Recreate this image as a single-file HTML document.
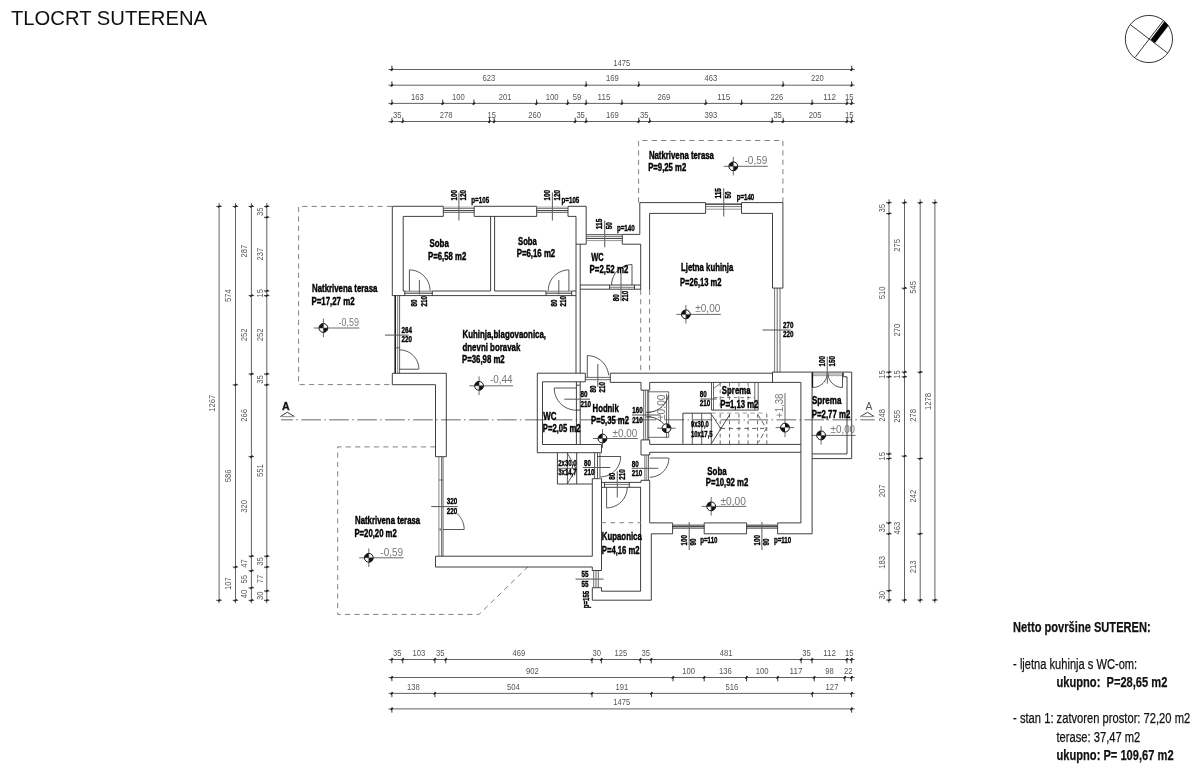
<!DOCTYPE html>
<html lang="hr"><head><meta charset="utf-8"><title>TLOCRT SUTERENA</title>
<style>
html,body{margin:0;padding:0;background:#fff;}
body{width:1200px;height:770px;overflow:hidden;}
svg{display:block;font-family:"Liberation Sans",Arial,sans-serif;filter:grayscale(100%);}
</style></head><body>
<svg width="1200" height="770" viewBox="0 0 1200 770">
<rect width="1200" height="770" fill="#ffffff"/>
<text x="11.00" y="25.00" font-size="20" fill="#111" font-weight="normal" text-anchor="start" textLength="196.0" lengthAdjust="spacingAndGlyphs">TLOCRT SUTERENA</text>
<circle cx="1148.9" cy="39.0" r="23.6" fill="none" stroke="#333" stroke-width="1"/>
<line x1="1130.30" y1="24.60" x2="1167.80" y2="53.20" stroke="#222" stroke-width="0.9"/>
<line x1="1135.20" y1="57.30" x2="1163.30" y2="20.60" stroke="#222" stroke-width="0.9"/>
<polygon points="1150.90,39.60 1154.90,42.90 1168.30,25.80 1164.50,21.60" fill="#000" stroke="#000" stroke-width="0.3"/>
<line x1="388.50" y1="69.50" x2="854.72" y2="69.50" stroke="#505050" stroke-width="0.9"/>
<line x1="391.90" y1="65.70" x2="391.90" y2="71.20" stroke="#222" stroke-width="0.9"/>
<line x1="390.60" y1="70.60" x2="393.00" y2="68.50" stroke="#111" stroke-width="1.05"/>
<line x1="851.66" y1="65.70" x2="851.66" y2="71.20" stroke="#222" stroke-width="0.9"/>
<line x1="850.36" y1="70.60" x2="852.76" y2="68.50" stroke="#111" stroke-width="1.05"/>
<text x="621.78" y="65.60" font-size="9.0" fill="#555" font-weight="normal" text-anchor="middle" textLength="17.0" lengthAdjust="spacingAndGlyphs">1475</text>
<line x1="388.50" y1="85.20" x2="854.72" y2="85.20" stroke="#505050" stroke-width="0.9"/>
<line x1="391.90" y1="81.40" x2="391.90" y2="86.90" stroke="#222" stroke-width="0.9"/>
<line x1="390.60" y1="86.30" x2="393.00" y2="84.20" stroke="#111" stroke-width="1.05"/>
<line x1="586.09" y1="81.40" x2="586.09" y2="86.90" stroke="#222" stroke-width="0.9"/>
<line x1="584.79" y1="86.30" x2="587.19" y2="84.20" stroke="#111" stroke-width="1.05"/>
<line x1="638.77" y1="81.40" x2="638.77" y2="86.90" stroke="#222" stroke-width="0.9"/>
<line x1="637.47" y1="86.30" x2="639.87" y2="84.20" stroke="#111" stroke-width="1.05"/>
<line x1="783.08" y1="81.40" x2="783.08" y2="86.90" stroke="#222" stroke-width="0.9"/>
<line x1="781.78" y1="86.30" x2="784.18" y2="84.20" stroke="#111" stroke-width="1.05"/>
<line x1="851.66" y1="81.40" x2="851.66" y2="86.90" stroke="#222" stroke-width="0.9"/>
<line x1="850.36" y1="86.30" x2="852.76" y2="84.20" stroke="#111" stroke-width="1.05"/>
<text x="488.99" y="81.30" font-size="9.0" fill="#555" font-weight="normal" text-anchor="middle" textLength="12.8" lengthAdjust="spacingAndGlyphs">623</text>
<text x="612.43" y="81.30" font-size="9.0" fill="#555" font-weight="normal" text-anchor="middle" textLength="12.8" lengthAdjust="spacingAndGlyphs">169</text>
<text x="710.92" y="81.30" font-size="9.0" fill="#555" font-weight="normal" text-anchor="middle" textLength="12.8" lengthAdjust="spacingAndGlyphs">463</text>
<text x="817.37" y="81.30" font-size="9.0" fill="#555" font-weight="normal" text-anchor="middle" textLength="12.8" lengthAdjust="spacingAndGlyphs">220</text>
<line x1="388.50" y1="103.40" x2="854.72" y2="103.40" stroke="#505050" stroke-width="0.9"/>
<line x1="391.90" y1="99.60" x2="391.90" y2="105.10" stroke="#222" stroke-width="0.9"/>
<line x1="390.60" y1="104.50" x2="393.00" y2="102.40" stroke="#111" stroke-width="1.05"/>
<line x1="442.71" y1="99.60" x2="442.71" y2="105.10" stroke="#222" stroke-width="0.9"/>
<line x1="441.41" y1="104.50" x2="443.81" y2="102.40" stroke="#111" stroke-width="1.05"/>
<line x1="473.88" y1="99.60" x2="473.88" y2="105.10" stroke="#222" stroke-width="0.9"/>
<line x1="472.58" y1="104.50" x2="474.98" y2="102.40" stroke="#111" stroke-width="1.05"/>
<line x1="536.53" y1="99.60" x2="536.53" y2="105.10" stroke="#222" stroke-width="0.9"/>
<line x1="535.23" y1="104.50" x2="537.63" y2="102.40" stroke="#111" stroke-width="1.05"/>
<line x1="567.70" y1="99.60" x2="567.70" y2="105.10" stroke="#222" stroke-width="0.9"/>
<line x1="566.40" y1="104.50" x2="568.80" y2="102.40" stroke="#111" stroke-width="1.05"/>
<line x1="586.09" y1="99.60" x2="586.09" y2="105.10" stroke="#222" stroke-width="0.9"/>
<line x1="584.79" y1="104.50" x2="587.19" y2="102.40" stroke="#111" stroke-width="1.05"/>
<line x1="621.93" y1="99.60" x2="621.93" y2="105.10" stroke="#222" stroke-width="0.9"/>
<line x1="620.63" y1="104.50" x2="623.03" y2="102.40" stroke="#111" stroke-width="1.05"/>
<line x1="705.78" y1="99.60" x2="705.78" y2="105.10" stroke="#222" stroke-width="0.9"/>
<line x1="704.48" y1="104.50" x2="706.88" y2="102.40" stroke="#111" stroke-width="1.05"/>
<line x1="741.63" y1="99.60" x2="741.63" y2="105.10" stroke="#222" stroke-width="0.9"/>
<line x1="740.33" y1="104.50" x2="742.73" y2="102.40" stroke="#111" stroke-width="1.05"/>
<line x1="812.07" y1="99.60" x2="812.07" y2="105.10" stroke="#222" stroke-width="0.9"/>
<line x1="810.77" y1="104.50" x2="813.17" y2="102.40" stroke="#111" stroke-width="1.05"/>
<line x1="846.98" y1="99.60" x2="846.98" y2="105.10" stroke="#222" stroke-width="0.9"/>
<line x1="845.68" y1="104.50" x2="848.08" y2="102.40" stroke="#111" stroke-width="1.05"/>
<line x1="851.66" y1="99.60" x2="851.66" y2="105.10" stroke="#222" stroke-width="0.9"/>
<line x1="850.36" y1="104.50" x2="852.76" y2="102.40" stroke="#111" stroke-width="1.05"/>
<text x="417.30" y="99.50" font-size="9.0" fill="#555" font-weight="normal" text-anchor="middle" textLength="12.8" lengthAdjust="spacingAndGlyphs">163</text>
<text x="458.29" y="99.50" font-size="9.0" fill="#555" font-weight="normal" text-anchor="middle" textLength="12.8" lengthAdjust="spacingAndGlyphs">100</text>
<text x="505.20" y="99.50" font-size="9.0" fill="#555" font-weight="normal" text-anchor="middle" textLength="12.8" lengthAdjust="spacingAndGlyphs">201</text>
<text x="552.11" y="99.50" font-size="9.0" fill="#555" font-weight="normal" text-anchor="middle" textLength="12.8" lengthAdjust="spacingAndGlyphs">100</text>
<text x="576.89" y="99.50" font-size="9.0" fill="#555" font-weight="normal" text-anchor="middle" textLength="8.5" lengthAdjust="spacingAndGlyphs">59</text>
<text x="604.01" y="99.50" font-size="9.0" fill="#555" font-weight="normal" text-anchor="middle" textLength="12.8" lengthAdjust="spacingAndGlyphs">115</text>
<text x="663.86" y="99.50" font-size="9.0" fill="#555" font-weight="normal" text-anchor="middle" textLength="12.8" lengthAdjust="spacingAndGlyphs">269</text>
<text x="723.70" y="99.50" font-size="9.0" fill="#555" font-weight="normal" text-anchor="middle" textLength="12.8" lengthAdjust="spacingAndGlyphs">115</text>
<text x="776.85" y="99.50" font-size="9.0" fill="#555" font-weight="normal" text-anchor="middle" textLength="12.8" lengthAdjust="spacingAndGlyphs">226</text>
<text x="829.53" y="99.50" font-size="9.0" fill="#555" font-weight="normal" text-anchor="middle" textLength="12.8" lengthAdjust="spacingAndGlyphs">112</text>
<text x="849.32" y="99.50" font-size="9.0" fill="#555" font-weight="normal" text-anchor="middle" textLength="8.5" lengthAdjust="spacingAndGlyphs">15</text>
<line x1="388.50" y1="121.50" x2="854.72" y2="121.50" stroke="#505050" stroke-width="0.9"/>
<line x1="391.90" y1="117.70" x2="391.90" y2="123.20" stroke="#222" stroke-width="0.9"/>
<line x1="390.60" y1="122.60" x2="393.00" y2="120.50" stroke="#111" stroke-width="1.05"/>
<line x1="402.81" y1="117.70" x2="402.81" y2="123.20" stroke="#222" stroke-width="0.9"/>
<line x1="401.51" y1="122.60" x2="403.91" y2="120.50" stroke="#111" stroke-width="1.05"/>
<line x1="489.46" y1="117.70" x2="489.46" y2="123.20" stroke="#222" stroke-width="0.9"/>
<line x1="488.16" y1="122.60" x2="490.56" y2="120.50" stroke="#111" stroke-width="1.05"/>
<line x1="494.14" y1="117.70" x2="494.14" y2="123.20" stroke="#222" stroke-width="0.9"/>
<line x1="492.84" y1="122.60" x2="495.24" y2="120.50" stroke="#111" stroke-width="1.05"/>
<line x1="575.18" y1="117.70" x2="575.18" y2="123.20" stroke="#222" stroke-width="0.9"/>
<line x1="573.88" y1="122.60" x2="576.28" y2="120.50" stroke="#111" stroke-width="1.05"/>
<line x1="586.09" y1="117.70" x2="586.09" y2="123.20" stroke="#222" stroke-width="0.9"/>
<line x1="584.79" y1="122.60" x2="587.19" y2="120.50" stroke="#111" stroke-width="1.05"/>
<line x1="638.77" y1="117.70" x2="638.77" y2="123.20" stroke="#222" stroke-width="0.9"/>
<line x1="637.47" y1="122.60" x2="639.87" y2="120.50" stroke="#111" stroke-width="1.05"/>
<line x1="649.68" y1="117.70" x2="649.68" y2="123.20" stroke="#222" stroke-width="0.9"/>
<line x1="648.38" y1="122.60" x2="650.78" y2="120.50" stroke="#111" stroke-width="1.05"/>
<line x1="772.17" y1="117.70" x2="772.17" y2="123.20" stroke="#222" stroke-width="0.9"/>
<line x1="770.87" y1="122.60" x2="773.27" y2="120.50" stroke="#111" stroke-width="1.05"/>
<line x1="783.08" y1="117.70" x2="783.08" y2="123.20" stroke="#222" stroke-width="0.9"/>
<line x1="781.78" y1="122.60" x2="784.18" y2="120.50" stroke="#111" stroke-width="1.05"/>
<line x1="846.98" y1="117.70" x2="846.98" y2="123.20" stroke="#222" stroke-width="0.9"/>
<line x1="845.68" y1="122.60" x2="848.08" y2="120.50" stroke="#111" stroke-width="1.05"/>
<line x1="851.66" y1="117.70" x2="851.66" y2="123.20" stroke="#222" stroke-width="0.9"/>
<line x1="850.36" y1="122.60" x2="852.76" y2="120.50" stroke="#111" stroke-width="1.05"/>
<text x="397.35" y="117.60" font-size="9.0" fill="#555" font-weight="normal" text-anchor="middle" textLength="8.5" lengthAdjust="spacingAndGlyphs">35</text>
<text x="446.14" y="117.60" font-size="9.0" fill="#555" font-weight="normal" text-anchor="middle" textLength="12.8" lengthAdjust="spacingAndGlyphs">278</text>
<text x="491.80" y="117.60" font-size="9.0" fill="#555" font-weight="normal" text-anchor="middle" textLength="8.5" lengthAdjust="spacingAndGlyphs">15</text>
<text x="534.66" y="117.60" font-size="9.0" fill="#555" font-weight="normal" text-anchor="middle" textLength="12.8" lengthAdjust="spacingAndGlyphs">260</text>
<text x="580.63" y="117.60" font-size="9.0" fill="#555" font-weight="normal" text-anchor="middle" textLength="8.5" lengthAdjust="spacingAndGlyphs">35</text>
<text x="612.43" y="117.60" font-size="9.0" fill="#555" font-weight="normal" text-anchor="middle" textLength="12.8" lengthAdjust="spacingAndGlyphs">169</text>
<text x="644.22" y="117.60" font-size="9.0" fill="#555" font-weight="normal" text-anchor="middle" textLength="8.5" lengthAdjust="spacingAndGlyphs">35</text>
<text x="710.92" y="117.60" font-size="9.0" fill="#555" font-weight="normal" text-anchor="middle" textLength="12.8" lengthAdjust="spacingAndGlyphs">393</text>
<text x="777.63" y="117.60" font-size="9.0" fill="#555" font-weight="normal" text-anchor="middle" textLength="8.5" lengthAdjust="spacingAndGlyphs">35</text>
<text x="815.03" y="117.60" font-size="9.0" fill="#555" font-weight="normal" text-anchor="middle" textLength="12.8" lengthAdjust="spacingAndGlyphs">205</text>
<text x="849.32" y="117.60" font-size="9.0" fill="#555" font-weight="normal" text-anchor="middle" textLength="8.5" lengthAdjust="spacingAndGlyphs">15</text>
<line x1="388.50" y1="659.50" x2="854.72" y2="659.50" stroke="#505050" stroke-width="0.9"/>
<line x1="391.90" y1="657.90" x2="391.90" y2="663.30" stroke="#222" stroke-width="0.9"/>
<line x1="390.60" y1="660.60" x2="393.00" y2="658.50" stroke="#111" stroke-width="1.05"/>
<line x1="402.81" y1="657.90" x2="402.81" y2="663.30" stroke="#222" stroke-width="0.9"/>
<line x1="401.51" y1="660.60" x2="403.91" y2="658.50" stroke="#111" stroke-width="1.05"/>
<line x1="434.91" y1="657.90" x2="434.91" y2="663.30" stroke="#222" stroke-width="0.9"/>
<line x1="433.61" y1="660.60" x2="436.01" y2="658.50" stroke="#111" stroke-width="1.05"/>
<line x1="445.82" y1="657.90" x2="445.82" y2="663.30" stroke="#222" stroke-width="0.9"/>
<line x1="444.52" y1="660.60" x2="446.92" y2="658.50" stroke="#111" stroke-width="1.05"/>
<line x1="592.01" y1="657.90" x2="592.01" y2="663.30" stroke="#222" stroke-width="0.9"/>
<line x1="590.71" y1="660.60" x2="593.11" y2="658.50" stroke="#111" stroke-width="1.05"/>
<line x1="601.36" y1="657.90" x2="601.36" y2="663.30" stroke="#222" stroke-width="0.9"/>
<line x1="600.06" y1="660.60" x2="602.46" y2="658.50" stroke="#111" stroke-width="1.05"/>
<line x1="640.32" y1="657.90" x2="640.32" y2="663.30" stroke="#222" stroke-width="0.9"/>
<line x1="639.02" y1="660.60" x2="641.42" y2="658.50" stroke="#111" stroke-width="1.05"/>
<line x1="651.23" y1="657.90" x2="651.23" y2="663.30" stroke="#222" stroke-width="0.9"/>
<line x1="649.93" y1="660.60" x2="652.33" y2="658.50" stroke="#111" stroke-width="1.05"/>
<line x1="801.16" y1="657.90" x2="801.16" y2="663.30" stroke="#222" stroke-width="0.9"/>
<line x1="799.86" y1="660.60" x2="802.26" y2="658.50" stroke="#111" stroke-width="1.05"/>
<line x1="812.07" y1="657.90" x2="812.07" y2="663.30" stroke="#222" stroke-width="0.9"/>
<line x1="810.77" y1="660.60" x2="813.17" y2="658.50" stroke="#111" stroke-width="1.05"/>
<line x1="846.98" y1="657.90" x2="846.98" y2="663.30" stroke="#222" stroke-width="0.9"/>
<line x1="845.68" y1="660.60" x2="848.08" y2="658.50" stroke="#111" stroke-width="1.05"/>
<line x1="851.66" y1="657.90" x2="851.66" y2="663.30" stroke="#222" stroke-width="0.9"/>
<line x1="850.36" y1="660.60" x2="852.76" y2="658.50" stroke="#111" stroke-width="1.05"/>
<text x="397.35" y="655.60" font-size="9.0" fill="#555" font-weight="normal" text-anchor="middle" textLength="8.5" lengthAdjust="spacingAndGlyphs">35</text>
<text x="418.86" y="655.60" font-size="9.0" fill="#555" font-weight="normal" text-anchor="middle" textLength="12.8" lengthAdjust="spacingAndGlyphs">103</text>
<text x="440.37" y="655.60" font-size="9.0" fill="#555" font-weight="normal" text-anchor="middle" textLength="8.5" lengthAdjust="spacingAndGlyphs">35</text>
<text x="518.92" y="655.60" font-size="9.0" fill="#555" font-weight="normal" text-anchor="middle" textLength="12.8" lengthAdjust="spacingAndGlyphs">469</text>
<text x="596.69" y="655.60" font-size="9.0" fill="#555" font-weight="normal" text-anchor="middle" textLength="8.5" lengthAdjust="spacingAndGlyphs">30</text>
<text x="620.84" y="655.60" font-size="9.0" fill="#555" font-weight="normal" text-anchor="middle" textLength="12.8" lengthAdjust="spacingAndGlyphs">125</text>
<text x="645.78" y="655.60" font-size="9.0" fill="#555" font-weight="normal" text-anchor="middle" textLength="8.5" lengthAdjust="spacingAndGlyphs">35</text>
<text x="726.20" y="655.60" font-size="9.0" fill="#555" font-weight="normal" text-anchor="middle" textLength="12.8" lengthAdjust="spacingAndGlyphs">481</text>
<text x="806.62" y="655.60" font-size="9.0" fill="#555" font-weight="normal" text-anchor="middle" textLength="8.5" lengthAdjust="spacingAndGlyphs">35</text>
<text x="829.53" y="655.60" font-size="9.0" fill="#555" font-weight="normal" text-anchor="middle" textLength="12.8" lengthAdjust="spacingAndGlyphs">112</text>
<text x="849.32" y="655.60" font-size="9.0" fill="#555" font-weight="normal" text-anchor="middle" textLength="8.5" lengthAdjust="spacingAndGlyphs">15</text>
<line x1="388.50" y1="677.50" x2="854.72" y2="677.50" stroke="#505050" stroke-width="0.9"/>
<line x1="391.90" y1="675.90" x2="391.90" y2="681.30" stroke="#222" stroke-width="0.9"/>
<line x1="390.60" y1="678.60" x2="393.00" y2="676.50" stroke="#111" stroke-width="1.05"/>
<line x1="673.05" y1="675.90" x2="673.05" y2="681.30" stroke="#222" stroke-width="0.9"/>
<line x1="671.75" y1="678.60" x2="674.15" y2="676.50" stroke="#111" stroke-width="1.05"/>
<line x1="704.22" y1="675.90" x2="704.22" y2="681.30" stroke="#222" stroke-width="0.9"/>
<line x1="702.92" y1="678.60" x2="705.32" y2="676.50" stroke="#111" stroke-width="1.05"/>
<line x1="746.61" y1="675.90" x2="746.61" y2="681.30" stroke="#222" stroke-width="0.9"/>
<line x1="745.31" y1="678.60" x2="747.71" y2="676.50" stroke="#111" stroke-width="1.05"/>
<line x1="777.78" y1="675.90" x2="777.78" y2="681.30" stroke="#222" stroke-width="0.9"/>
<line x1="776.48" y1="678.60" x2="778.88" y2="676.50" stroke="#111" stroke-width="1.05"/>
<line x1="814.25" y1="675.90" x2="814.25" y2="681.30" stroke="#222" stroke-width="0.9"/>
<line x1="812.95" y1="678.60" x2="815.35" y2="676.50" stroke="#111" stroke-width="1.05"/>
<line x1="844.80" y1="675.90" x2="844.80" y2="681.30" stroke="#222" stroke-width="0.9"/>
<line x1="843.50" y1="678.60" x2="845.90" y2="676.50" stroke="#111" stroke-width="1.05"/>
<line x1="851.66" y1="675.90" x2="851.66" y2="681.30" stroke="#222" stroke-width="0.9"/>
<line x1="850.36" y1="678.60" x2="852.76" y2="676.50" stroke="#111" stroke-width="1.05"/>
<text x="532.48" y="673.60" font-size="9.0" fill="#555" font-weight="normal" text-anchor="middle" textLength="12.8" lengthAdjust="spacingAndGlyphs">902</text>
<text x="688.64" y="673.60" font-size="9.0" fill="#555" font-weight="normal" text-anchor="middle" textLength="12.8" lengthAdjust="spacingAndGlyphs">100</text>
<text x="725.42" y="673.60" font-size="9.0" fill="#555" font-weight="normal" text-anchor="middle" textLength="12.8" lengthAdjust="spacingAndGlyphs">136</text>
<text x="762.20" y="673.60" font-size="9.0" fill="#555" font-weight="normal" text-anchor="middle" textLength="12.8" lengthAdjust="spacingAndGlyphs">100</text>
<text x="796.02" y="673.60" font-size="9.0" fill="#555" font-weight="normal" text-anchor="middle" textLength="12.8" lengthAdjust="spacingAndGlyphs">117</text>
<text x="829.53" y="673.60" font-size="9.0" fill="#555" font-weight="normal" text-anchor="middle" textLength="8.5" lengthAdjust="spacingAndGlyphs">98</text>
<text x="848.23" y="673.60" font-size="9.0" fill="#555" font-weight="normal" text-anchor="middle" textLength="8.5" lengthAdjust="spacingAndGlyphs">22</text>
<line x1="388.50" y1="693.40" x2="854.72" y2="693.40" stroke="#505050" stroke-width="0.9"/>
<line x1="391.90" y1="691.80" x2="391.90" y2="697.20" stroke="#222" stroke-width="0.9"/>
<line x1="390.60" y1="694.50" x2="393.00" y2="692.40" stroke="#111" stroke-width="1.05"/>
<line x1="434.91" y1="691.80" x2="434.91" y2="697.20" stroke="#222" stroke-width="0.9"/>
<line x1="433.61" y1="694.50" x2="436.01" y2="692.40" stroke="#111" stroke-width="1.05"/>
<line x1="592.01" y1="691.80" x2="592.01" y2="697.20" stroke="#222" stroke-width="0.9"/>
<line x1="590.71" y1="694.50" x2="593.11" y2="692.40" stroke="#111" stroke-width="1.05"/>
<line x1="651.55" y1="691.80" x2="651.55" y2="697.20" stroke="#222" stroke-width="0.9"/>
<line x1="650.25" y1="694.50" x2="652.65" y2="692.40" stroke="#111" stroke-width="1.05"/>
<line x1="812.38" y1="691.80" x2="812.38" y2="697.20" stroke="#222" stroke-width="0.9"/>
<line x1="811.08" y1="694.50" x2="813.48" y2="692.40" stroke="#111" stroke-width="1.05"/>
<line x1="851.66" y1="691.80" x2="851.66" y2="697.20" stroke="#222" stroke-width="0.9"/>
<line x1="850.36" y1="694.50" x2="852.76" y2="692.40" stroke="#111" stroke-width="1.05"/>
<text x="413.41" y="689.50" font-size="9.0" fill="#555" font-weight="normal" text-anchor="middle" textLength="12.8" lengthAdjust="spacingAndGlyphs">138</text>
<text x="513.46" y="689.50" font-size="9.0" fill="#555" font-weight="normal" text-anchor="middle" textLength="12.8" lengthAdjust="spacingAndGlyphs">504</text>
<text x="621.78" y="689.50" font-size="9.0" fill="#555" font-weight="normal" text-anchor="middle" textLength="12.8" lengthAdjust="spacingAndGlyphs">191</text>
<text x="731.96" y="689.50" font-size="9.0" fill="#555" font-weight="normal" text-anchor="middle" textLength="12.8" lengthAdjust="spacingAndGlyphs">516</text>
<text x="832.02" y="689.50" font-size="9.0" fill="#555" font-weight="normal" text-anchor="middle" textLength="12.8" lengthAdjust="spacingAndGlyphs">127</text>
<line x1="388.50" y1="708.90" x2="854.72" y2="708.90" stroke="#505050" stroke-width="0.9"/>
<line x1="391.90" y1="707.30" x2="391.90" y2="712.70" stroke="#222" stroke-width="0.9"/>
<line x1="390.60" y1="710.00" x2="393.00" y2="707.90" stroke="#111" stroke-width="1.05"/>
<line x1="851.66" y1="707.30" x2="851.66" y2="712.70" stroke="#222" stroke-width="0.9"/>
<line x1="850.36" y1="710.00" x2="852.76" y2="707.90" stroke="#111" stroke-width="1.05"/>
<text x="621.78" y="705.00" font-size="9.0" fill="#555" font-weight="normal" text-anchor="middle" textLength="17.0" lengthAdjust="spacingAndGlyphs">1475</text>
<line x1="219.10" y1="203.00" x2="219.10" y2="603.20" stroke="#505050" stroke-width="0.9"/>
<line x1="216.30" y1="206.40" x2="221.70" y2="206.40" stroke="#222" stroke-width="0.9"/>
<line x1="218.00" y1="207.50" x2="220.40" y2="205.40" stroke="#111" stroke-width="1.05"/>
<line x1="216.30" y1="600.31" x2="221.70" y2="600.31" stroke="#222" stroke-width="0.9"/>
<line x1="218.00" y1="601.41" x2="220.40" y2="599.31" stroke="#111" stroke-width="1.05"/>
<text x="215.10" y="403.36" font-size="9.0" fill="#555" font-weight="normal" text-anchor="middle" textLength="17.0" lengthAdjust="spacingAndGlyphs" transform="rotate(-90 215.10 403.36)">1267</text>
<line x1="235.50" y1="203.00" x2="235.50" y2="603.20" stroke="#505050" stroke-width="0.9"/>
<line x1="232.70" y1="206.40" x2="238.10" y2="206.40" stroke="#222" stroke-width="0.9"/>
<line x1="234.40" y1="207.50" x2="236.80" y2="205.40" stroke="#111" stroke-width="1.05"/>
<line x1="232.70" y1="384.86" x2="238.10" y2="384.86" stroke="#222" stroke-width="0.9"/>
<line x1="234.40" y1="385.96" x2="236.80" y2="383.86" stroke="#111" stroke-width="1.05"/>
<line x1="232.70" y1="567.04" x2="238.10" y2="567.04" stroke="#222" stroke-width="0.9"/>
<line x1="234.40" y1="568.14" x2="236.80" y2="566.04" stroke="#111" stroke-width="1.05"/>
<line x1="232.70" y1="600.31" x2="238.10" y2="600.31" stroke="#222" stroke-width="0.9"/>
<line x1="234.40" y1="601.41" x2="236.80" y2="599.31" stroke="#111" stroke-width="1.05"/>
<text x="231.50" y="295.63" font-size="9.0" fill="#555" font-weight="normal" text-anchor="middle" textLength="12.8" lengthAdjust="spacingAndGlyphs" transform="rotate(-90 231.50 295.63)">574</text>
<text x="231.50" y="475.95" font-size="9.0" fill="#555" font-weight="normal" text-anchor="middle" textLength="12.8" lengthAdjust="spacingAndGlyphs" transform="rotate(-90 231.50 475.95)">586</text>
<text x="231.50" y="583.68" font-size="9.0" fill="#555" font-weight="normal" text-anchor="middle" textLength="12.8" lengthAdjust="spacingAndGlyphs" transform="rotate(-90 231.50 583.68)">107</text>
<line x1="251.40" y1="203.00" x2="251.40" y2="603.20" stroke="#505050" stroke-width="0.9"/>
<line x1="248.60" y1="206.40" x2="254.00" y2="206.40" stroke="#222" stroke-width="0.9"/>
<line x1="250.30" y1="207.50" x2="252.70" y2="205.40" stroke="#111" stroke-width="1.05"/>
<line x1="248.60" y1="295.63" x2="254.00" y2="295.63" stroke="#222" stroke-width="0.9"/>
<line x1="250.30" y1="296.73" x2="252.70" y2="294.63" stroke="#111" stroke-width="1.05"/>
<line x1="248.60" y1="373.98" x2="254.00" y2="373.98" stroke="#222" stroke-width="0.9"/>
<line x1="250.30" y1="375.08" x2="252.70" y2="372.98" stroke="#111" stroke-width="1.05"/>
<line x1="248.60" y1="456.67" x2="254.00" y2="456.67" stroke="#222" stroke-width="0.9"/>
<line x1="250.30" y1="457.77" x2="252.70" y2="455.67" stroke="#111" stroke-width="1.05"/>
<line x1="248.60" y1="556.16" x2="254.00" y2="556.16" stroke="#222" stroke-width="0.9"/>
<line x1="250.30" y1="557.26" x2="252.70" y2="555.16" stroke="#111" stroke-width="1.05"/>
<line x1="248.60" y1="570.77" x2="254.00" y2="570.77" stroke="#222" stroke-width="0.9"/>
<line x1="250.30" y1="571.87" x2="252.70" y2="569.77" stroke="#111" stroke-width="1.05"/>
<line x1="248.60" y1="587.87" x2="254.00" y2="587.87" stroke="#222" stroke-width="0.9"/>
<line x1="250.30" y1="588.97" x2="252.70" y2="586.87" stroke="#111" stroke-width="1.05"/>
<line x1="248.60" y1="600.31" x2="254.00" y2="600.31" stroke="#222" stroke-width="0.9"/>
<line x1="250.30" y1="601.41" x2="252.70" y2="599.31" stroke="#111" stroke-width="1.05"/>
<text x="247.40" y="251.01" font-size="9.0" fill="#555" font-weight="normal" text-anchor="middle" textLength="12.8" lengthAdjust="spacingAndGlyphs" transform="rotate(-90 247.40 251.01)">287</text>
<text x="247.40" y="334.80" font-size="9.0" fill="#555" font-weight="normal" text-anchor="middle" textLength="12.8" lengthAdjust="spacingAndGlyphs" transform="rotate(-90 247.40 334.80)">252</text>
<text x="247.40" y="415.32" font-size="9.0" fill="#555" font-weight="normal" text-anchor="middle" textLength="12.8" lengthAdjust="spacingAndGlyphs" transform="rotate(-90 247.40 415.32)">266</text>
<text x="247.40" y="506.42" font-size="9.0" fill="#555" font-weight="normal" text-anchor="middle" textLength="12.8" lengthAdjust="spacingAndGlyphs" transform="rotate(-90 247.40 506.42)">320</text>
<text x="247.40" y="563.47" font-size="9.0" fill="#555" font-weight="normal" text-anchor="middle" textLength="8.5" lengthAdjust="spacingAndGlyphs" transform="rotate(-90 247.40 563.47)">47</text>
<text x="247.40" y="579.32" font-size="9.0" fill="#555" font-weight="normal" text-anchor="middle" textLength="8.5" lengthAdjust="spacingAndGlyphs" transform="rotate(-90 247.40 579.32)">55</text>
<text x="247.40" y="594.09" font-size="9.0" fill="#555" font-weight="normal" text-anchor="middle" textLength="8.5" lengthAdjust="spacingAndGlyphs" transform="rotate(-90 247.40 594.09)">40</text>
<line x1="266.80" y1="203.00" x2="266.80" y2="603.20" stroke="#505050" stroke-width="0.9"/>
<line x1="264.00" y1="206.40" x2="269.40" y2="206.40" stroke="#222" stroke-width="0.9"/>
<line x1="265.70" y1="207.50" x2="268.10" y2="205.40" stroke="#111" stroke-width="1.05"/>
<line x1="264.00" y1="217.28" x2="269.40" y2="217.28" stroke="#222" stroke-width="0.9"/>
<line x1="265.70" y1="218.38" x2="268.10" y2="216.28" stroke="#111" stroke-width="1.05"/>
<line x1="264.00" y1="290.96" x2="269.40" y2="290.96" stroke="#222" stroke-width="0.9"/>
<line x1="265.70" y1="292.06" x2="268.10" y2="289.96" stroke="#111" stroke-width="1.05"/>
<line x1="264.00" y1="295.63" x2="269.40" y2="295.63" stroke="#222" stroke-width="0.9"/>
<line x1="265.70" y1="296.73" x2="268.10" y2="294.63" stroke="#111" stroke-width="1.05"/>
<line x1="264.00" y1="373.98" x2="269.40" y2="373.98" stroke="#222" stroke-width="0.9"/>
<line x1="265.70" y1="375.08" x2="268.10" y2="372.98" stroke="#111" stroke-width="1.05"/>
<line x1="264.00" y1="384.86" x2="269.40" y2="384.86" stroke="#222" stroke-width="0.9"/>
<line x1="265.70" y1="385.96" x2="268.10" y2="383.86" stroke="#111" stroke-width="1.05"/>
<line x1="264.00" y1="556.16" x2="269.40" y2="556.16" stroke="#222" stroke-width="0.9"/>
<line x1="265.70" y1="557.26" x2="268.10" y2="555.16" stroke="#111" stroke-width="1.05"/>
<line x1="264.00" y1="567.04" x2="269.40" y2="567.04" stroke="#222" stroke-width="0.9"/>
<line x1="265.70" y1="568.14" x2="268.10" y2="566.04" stroke="#111" stroke-width="1.05"/>
<line x1="264.00" y1="590.98" x2="269.40" y2="590.98" stroke="#222" stroke-width="0.9"/>
<line x1="265.70" y1="592.08" x2="268.10" y2="589.98" stroke="#111" stroke-width="1.05"/>
<line x1="264.00" y1="600.31" x2="269.40" y2="600.31" stroke="#222" stroke-width="0.9"/>
<line x1="265.70" y1="601.41" x2="268.10" y2="599.31" stroke="#111" stroke-width="1.05"/>
<text x="262.80" y="211.84" font-size="9.0" fill="#555" font-weight="normal" text-anchor="middle" textLength="8.5" lengthAdjust="spacingAndGlyphs" transform="rotate(-90 262.80 211.84)">35</text>
<text x="262.80" y="254.12" font-size="9.0" fill="#555" font-weight="normal" text-anchor="middle" textLength="12.8" lengthAdjust="spacingAndGlyphs" transform="rotate(-90 262.80 254.12)">237</text>
<text x="262.80" y="293.30" font-size="9.0" fill="#555" font-weight="normal" text-anchor="middle" textLength="8.5" lengthAdjust="spacingAndGlyphs" transform="rotate(-90 262.80 293.30)">15</text>
<text x="262.80" y="334.80" font-size="9.0" fill="#555" font-weight="normal" text-anchor="middle" textLength="12.8" lengthAdjust="spacingAndGlyphs" transform="rotate(-90 262.80 334.80)">252</text>
<text x="262.80" y="379.42" font-size="9.0" fill="#555" font-weight="normal" text-anchor="middle" textLength="8.5" lengthAdjust="spacingAndGlyphs" transform="rotate(-90 262.80 379.42)">35</text>
<text x="262.80" y="470.51" font-size="9.0" fill="#555" font-weight="normal" text-anchor="middle" textLength="12.8" lengthAdjust="spacingAndGlyphs" transform="rotate(-90 262.80 470.51)">551</text>
<text x="262.80" y="561.60" font-size="9.0" fill="#555" font-weight="normal" text-anchor="middle" textLength="8.5" lengthAdjust="spacingAndGlyphs" transform="rotate(-90 262.80 561.60)">35</text>
<text x="262.80" y="579.01" font-size="9.0" fill="#555" font-weight="normal" text-anchor="middle" textLength="8.5" lengthAdjust="spacingAndGlyphs" transform="rotate(-90 262.80 579.01)">77</text>
<text x="262.80" y="595.65" font-size="9.0" fill="#555" font-weight="normal" text-anchor="middle" textLength="8.5" lengthAdjust="spacingAndGlyphs" transform="rotate(-90 262.80 595.65)">30</text>
<line x1="889.00" y1="199.30" x2="889.00" y2="602.92" stroke="#505050" stroke-width="0.9"/>
<line x1="886.20" y1="202.70" x2="891.60" y2="202.70" stroke="#222" stroke-width="0.9"/>
<line x1="887.90" y1="203.80" x2="890.30" y2="201.70" stroke="#111" stroke-width="1.05"/>
<line x1="886.20" y1="213.58" x2="891.60" y2="213.58" stroke="#222" stroke-width="0.9"/>
<line x1="887.90" y1="214.68" x2="890.30" y2="212.58" stroke="#111" stroke-width="1.05"/>
<line x1="886.20" y1="372.14" x2="891.60" y2="372.14" stroke="#222" stroke-width="0.9"/>
<line x1="887.90" y1="373.24" x2="890.30" y2="371.14" stroke="#111" stroke-width="1.05"/>
<line x1="886.20" y1="376.80" x2="891.60" y2="376.80" stroke="#222" stroke-width="0.9"/>
<line x1="887.90" y1="377.90" x2="890.30" y2="375.80" stroke="#111" stroke-width="1.05"/>
<line x1="886.20" y1="453.91" x2="891.60" y2="453.91" stroke="#222" stroke-width="0.9"/>
<line x1="887.90" y1="455.01" x2="890.30" y2="452.91" stroke="#111" stroke-width="1.05"/>
<line x1="886.20" y1="458.57" x2="891.60" y2="458.57" stroke="#222" stroke-width="0.9"/>
<line x1="887.90" y1="459.67" x2="890.30" y2="457.57" stroke="#111" stroke-width="1.05"/>
<line x1="886.20" y1="522.93" x2="891.60" y2="522.93" stroke="#222" stroke-width="0.9"/>
<line x1="887.90" y1="524.03" x2="890.30" y2="521.93" stroke="#111" stroke-width="1.05"/>
<line x1="886.20" y1="533.81" x2="891.60" y2="533.81" stroke="#222" stroke-width="0.9"/>
<line x1="887.90" y1="534.91" x2="890.30" y2="532.81" stroke="#111" stroke-width="1.05"/>
<line x1="886.20" y1="590.70" x2="891.60" y2="590.70" stroke="#222" stroke-width="0.9"/>
<line x1="887.90" y1="591.80" x2="890.30" y2="589.70" stroke="#111" stroke-width="1.05"/>
<line x1="886.20" y1="600.03" x2="891.60" y2="600.03" stroke="#222" stroke-width="0.9"/>
<line x1="887.90" y1="601.13" x2="890.30" y2="599.03" stroke="#111" stroke-width="1.05"/>
<text x="885.00" y="208.14" font-size="9.0" fill="#555" font-weight="normal" text-anchor="middle" textLength="8.5" lengthAdjust="spacingAndGlyphs" transform="rotate(-90 885.00 208.14)">35</text>
<text x="885.00" y="292.86" font-size="9.0" fill="#555" font-weight="normal" text-anchor="middle" textLength="12.8" lengthAdjust="spacingAndGlyphs" transform="rotate(-90 885.00 292.86)">510</text>
<text x="885.00" y="374.47" font-size="9.0" fill="#555" font-weight="normal" text-anchor="middle" textLength="8.5" lengthAdjust="spacingAndGlyphs" transform="rotate(-90 885.00 374.47)">15</text>
<text x="885.00" y="415.36" font-size="9.0" fill="#555" font-weight="normal" text-anchor="middle" textLength="12.8" lengthAdjust="spacingAndGlyphs" transform="rotate(-90 885.00 415.36)">248</text>
<text x="885.00" y="456.24" font-size="9.0" fill="#555" font-weight="normal" text-anchor="middle" textLength="8.5" lengthAdjust="spacingAndGlyphs" transform="rotate(-90 885.00 456.24)">15</text>
<text x="885.00" y="490.75" font-size="9.0" fill="#555" font-weight="normal" text-anchor="middle" textLength="12.8" lengthAdjust="spacingAndGlyphs" transform="rotate(-90 885.00 490.75)">207</text>
<text x="885.00" y="528.37" font-size="9.0" fill="#555" font-weight="normal" text-anchor="middle" textLength="8.5" lengthAdjust="spacingAndGlyphs" transform="rotate(-90 885.00 528.37)">35</text>
<text x="885.00" y="562.26" font-size="9.0" fill="#555" font-weight="normal" text-anchor="middle" textLength="12.8" lengthAdjust="spacingAndGlyphs" transform="rotate(-90 885.00 562.26)">183</text>
<text x="885.00" y="595.37" font-size="9.0" fill="#555" font-weight="normal" text-anchor="middle" textLength="8.5" lengthAdjust="spacingAndGlyphs" transform="rotate(-90 885.00 595.37)">30</text>
<line x1="904.50" y1="199.30" x2="904.50" y2="602.92" stroke="#505050" stroke-width="0.9"/>
<line x1="901.70" y1="202.70" x2="907.10" y2="202.70" stroke="#222" stroke-width="0.9"/>
<line x1="903.40" y1="203.80" x2="905.80" y2="201.70" stroke="#111" stroke-width="1.05"/>
<line x1="901.70" y1="288.20" x2="907.10" y2="288.20" stroke="#222" stroke-width="0.9"/>
<line x1="903.40" y1="289.30" x2="905.80" y2="287.20" stroke="#111" stroke-width="1.05"/>
<line x1="901.70" y1="372.14" x2="907.10" y2="372.14" stroke="#222" stroke-width="0.9"/>
<line x1="903.40" y1="373.24" x2="905.80" y2="371.14" stroke="#111" stroke-width="1.05"/>
<line x1="901.70" y1="376.80" x2="907.10" y2="376.80" stroke="#222" stroke-width="0.9"/>
<line x1="903.40" y1="377.90" x2="905.80" y2="375.80" stroke="#111" stroke-width="1.05"/>
<line x1="901.70" y1="456.08" x2="907.10" y2="456.08" stroke="#222" stroke-width="0.9"/>
<line x1="903.40" y1="457.18" x2="905.80" y2="455.08" stroke="#111" stroke-width="1.05"/>
<line x1="901.70" y1="600.03" x2="907.10" y2="600.03" stroke="#222" stroke-width="0.9"/>
<line x1="903.40" y1="601.13" x2="905.80" y2="599.03" stroke="#111" stroke-width="1.05"/>
<text x="900.50" y="245.45" font-size="9.0" fill="#555" font-weight="normal" text-anchor="middle" textLength="12.8" lengthAdjust="spacingAndGlyphs" transform="rotate(-90 900.50 245.45)">275</text>
<text x="900.50" y="330.17" font-size="9.0" fill="#555" font-weight="normal" text-anchor="middle" textLength="12.8" lengthAdjust="spacingAndGlyphs" transform="rotate(-90 900.50 330.17)">270</text>
<text x="900.50" y="374.47" font-size="9.0" fill="#555" font-weight="normal" text-anchor="middle" textLength="8.5" lengthAdjust="spacingAndGlyphs" transform="rotate(-90 900.50 374.47)">15</text>
<text x="900.50" y="416.44" font-size="9.0" fill="#555" font-weight="normal" text-anchor="middle" textLength="12.8" lengthAdjust="spacingAndGlyphs" transform="rotate(-90 900.50 416.44)">255</text>
<text x="900.50" y="528.06" font-size="9.0" fill="#555" font-weight="normal" text-anchor="middle" textLength="12.8" lengthAdjust="spacingAndGlyphs" transform="rotate(-90 900.50 528.06)">463</text>
<line x1="920.20" y1="199.30" x2="920.20" y2="602.92" stroke="#505050" stroke-width="0.9"/>
<line x1="917.40" y1="202.70" x2="922.80" y2="202.70" stroke="#222" stroke-width="0.9"/>
<line x1="919.10" y1="203.80" x2="921.50" y2="201.70" stroke="#111" stroke-width="1.05"/>
<line x1="917.40" y1="372.14" x2="922.80" y2="372.14" stroke="#222" stroke-width="0.9"/>
<line x1="919.10" y1="373.24" x2="921.50" y2="371.14" stroke="#111" stroke-width="1.05"/>
<line x1="917.40" y1="458.57" x2="922.80" y2="458.57" stroke="#222" stroke-width="0.9"/>
<line x1="919.10" y1="459.67" x2="921.50" y2="457.57" stroke="#111" stroke-width="1.05"/>
<line x1="917.40" y1="533.81" x2="922.80" y2="533.81" stroke="#222" stroke-width="0.9"/>
<line x1="919.10" y1="534.91" x2="921.50" y2="532.81" stroke="#111" stroke-width="1.05"/>
<line x1="917.40" y1="600.03" x2="922.80" y2="600.03" stroke="#222" stroke-width="0.9"/>
<line x1="919.10" y1="601.13" x2="921.50" y2="599.03" stroke="#111" stroke-width="1.05"/>
<text x="916.20" y="287.42" font-size="9.0" fill="#555" font-weight="normal" text-anchor="middle" textLength="12.8" lengthAdjust="spacingAndGlyphs" transform="rotate(-90 916.20 287.42)">545</text>
<text x="916.20" y="415.36" font-size="9.0" fill="#555" font-weight="normal" text-anchor="middle" textLength="12.8" lengthAdjust="spacingAndGlyphs" transform="rotate(-90 916.20 415.36)">278</text>
<text x="916.20" y="496.19" font-size="9.0" fill="#555" font-weight="normal" text-anchor="middle" textLength="12.8" lengthAdjust="spacingAndGlyphs" transform="rotate(-90 916.20 496.19)">242</text>
<text x="916.20" y="566.92" font-size="9.0" fill="#555" font-weight="normal" text-anchor="middle" textLength="12.8" lengthAdjust="spacingAndGlyphs" transform="rotate(-90 916.20 566.92)">213</text>
<line x1="934.90" y1="199.30" x2="934.90" y2="602.92" stroke="#505050" stroke-width="0.9"/>
<line x1="932.10" y1="202.70" x2="937.50" y2="202.70" stroke="#222" stroke-width="0.9"/>
<line x1="933.80" y1="203.80" x2="936.20" y2="201.70" stroke="#111" stroke-width="1.05"/>
<line x1="932.10" y1="600.03" x2="937.50" y2="600.03" stroke="#222" stroke-width="0.9"/>
<line x1="933.80" y1="601.13" x2="936.20" y2="599.03" stroke="#111" stroke-width="1.05"/>
<text x="930.90" y="401.37" font-size="9.0" fill="#555" font-weight="normal" text-anchor="middle" textLength="17.0" lengthAdjust="spacingAndGlyphs" transform="rotate(-90 930.90 401.37)">1278</text>
<line x1="281.10" y1="419.85" x2="874.70" y2="419.85" stroke="#9a9a9a" stroke-width="1.5" stroke-dasharray="19.6 3.3 1.5 3.55" stroke-dashoffset="7.7"/>
<text x="285.80" y="410.40" font-size="10.6" fill="#111" font-weight="bold" text-anchor="middle" stroke="#111" stroke-width="0.3">A</text>
<polyline points="280.30,416.60 287.30,412.30 294.50,416.60" fill="none" stroke="#222" stroke-width="0.9"/>
<line x1="281.50" y1="416.60" x2="293.30" y2="416.60" stroke="#999" stroke-width="1.2"/>
<text x="868.90" y="409.80" font-size="10.3" fill="#555" font-weight="normal" text-anchor="middle">A</text>
<polyline points="860.30,416.60 867.50,412.30 874.30,416.60" fill="none" stroke="#333" stroke-width="0.9"/>
<line x1="861.50" y1="416.60" x2="873.30" y2="416.60" stroke="#999" stroke-width="1.2"/>
<polyline points="392.00,206.40 298.60,206.40 298.60,384.60 392.00,384.60" fill="none" stroke="#606060" stroke-width="0.8" stroke-dasharray="5.2 4.2"/>
<polyline points="435.50,446.90 337.70,446.90 337.70,614.40 479.00,614.40 527.80,567.00" fill="none" stroke="#606060" stroke-width="0.8" stroke-dasharray="5.2 4.2"/>
<polyline points="638.60,202.60 638.60,140.50 782.90,140.50 782.90,202.60" fill="none" stroke="#606060" stroke-width="0.8" stroke-dasharray="5.2 4.2"/>
<line x1="640.70" y1="289.70" x2="640.70" y2="373.20" stroke="#606060" stroke-width="0.8" stroke-dasharray="5.2 4.2"/>
<line x1="649.60" y1="289.70" x2="649.60" y2="373.20" stroke="#606060" stroke-width="0.8" stroke-dasharray="5.2 4.2"/>
<polyline points="392.30,295.60 392.30,206.30 443.30,206.30 443.30,216.40 403.20,216.40 403.20,291.00" fill="none" stroke="#2a2a2a" stroke-width="0.9"/>
<polygon points="474.20,206.30 536.70,206.30 536.70,216.40 474.20,216.40" fill="none" stroke="#2a2a2a" stroke-width="0.9"/>
<polygon points="568.00,206.30 586.20,206.30 586.20,244.20 576.00,244.20 576.00,216.40 568.00,216.40" fill="none" stroke="#2a2a2a" stroke-width="0.9"/>
<line x1="443.30" y1="207.00" x2="474.20" y2="207.00" stroke="#aaa" stroke-width="0.8"/>
<line x1="443.30" y1="208.30" x2="474.20" y2="208.30" stroke="#555" stroke-width="0.9"/>
<line x1="443.30" y1="210.50" x2="474.20" y2="210.50" stroke="#444" stroke-width="1.0"/>
<line x1="443.30" y1="212.30" x2="474.20" y2="212.30" stroke="#444" stroke-width="0.9"/>
<line x1="536.70" y1="207.00" x2="568.00" y2="207.00" stroke="#aaa" stroke-width="0.8"/>
<line x1="536.70" y1="208.30" x2="568.00" y2="208.30" stroke="#555" stroke-width="0.9"/>
<line x1="536.70" y1="210.50" x2="568.00" y2="210.50" stroke="#444" stroke-width="1.0"/>
<line x1="536.70" y1="212.30" x2="568.00" y2="212.30" stroke="#444" stroke-width="0.9"/>
<line x1="490.60" y1="216.40" x2="490.60" y2="291.00" stroke="#2a2a2a" stroke-width="0.9"/>
<line x1="494.60" y1="216.40" x2="494.60" y2="291.00" stroke="#2a2a2a" stroke-width="0.9"/>
<line x1="392.30" y1="295.60" x2="576.00" y2="295.60" stroke="#2a2a2a" stroke-width="0.9"/>
<line x1="403.20" y1="291.00" x2="404.80" y2="291.00" stroke="#2a2a2a" stroke-width="0.9"/>
<line x1="432.30" y1="291.00" x2="490.60" y2="291.00" stroke="#2a2a2a" stroke-width="0.9"/>
<line x1="494.60" y1="291.00" x2="546.00" y2="291.00" stroke="#2a2a2a" stroke-width="0.9"/>
<line x1="571.70" y1="291.00" x2="576.00" y2="291.00" stroke="#2a2a2a" stroke-width="0.9"/>
<line x1="404.80" y1="291.00" x2="404.80" y2="295.60" stroke="#2a2a2a" stroke-width="0.9"/>
<line x1="432.30" y1="291.00" x2="432.30" y2="295.60" stroke="#2a2a2a" stroke-width="0.9"/>
<line x1="546.00" y1="291.00" x2="546.00" y2="295.60" stroke="#2a2a2a" stroke-width="0.9"/>
<line x1="571.70" y1="291.00" x2="571.70" y2="295.60" stroke="#2a2a2a" stroke-width="0.9"/>
<line x1="404.80" y1="291.20" x2="432.30" y2="291.20" stroke="#555" stroke-width="0.8"/>
<line x1="404.80" y1="293.20" x2="432.30" y2="293.20" stroke="#333" stroke-width="1.0"/>
<line x1="546.00" y1="291.20" x2="571.70" y2="291.20" stroke="#555" stroke-width="0.8"/>
<line x1="546.00" y1="293.20" x2="571.70" y2="293.20" stroke="#333" stroke-width="1.0"/>
<line x1="576.00" y1="244.20" x2="576.00" y2="295.60" stroke="#2a2a2a" stroke-width="0.9"/>
<line x1="409.40" y1="291.00" x2="409.40" y2="269.90" stroke="#2a2a2a" stroke-width="0.8"/>
<polyline points="409.40,269.90 411.42,270.00 413.42,270.30 415.38,270.79 417.28,271.47 419.11,272.33 420.84,273.37 422.47,274.58 423.97,275.93 425.32,277.43 426.53,279.06 427.57,280.79 428.43,282.62 429.11,284.52 429.60,286.48 429.90,288.48 430.00,290.50" fill="none" stroke="#2a2a2a" stroke-width="0.8"/>
<line x1="568.90" y1="291.00" x2="568.90" y2="269.90" stroke="#2a2a2a" stroke-width="0.8"/>
<polyline points="568.90,269.90 566.88,270.00 564.88,270.30 562.92,270.79 561.02,271.47 559.19,272.33 557.46,273.37 555.83,274.58 554.33,275.93 552.98,277.43 551.77,279.06 550.73,280.79 549.87,282.62 549.19,284.52 548.70,286.48 548.40,288.48 548.30,290.50" fill="none" stroke="#2a2a2a" stroke-width="0.8"/>
<line x1="576.00" y1="295.60" x2="576.00" y2="373.20" stroke="#2a2a2a" stroke-width="0.9"/>
<line x1="580.20" y1="244.20" x2="580.20" y2="373.20" stroke="#2a2a2a" stroke-width="0.9"/>
<line x1="586.20" y1="234.70" x2="622.30" y2="234.70" stroke="#333" stroke-width="0.9"/>
<line x1="586.20" y1="236.50" x2="622.30" y2="236.50" stroke="#666" stroke-width="0.8"/>
<line x1="586.20" y1="238.40" x2="622.30" y2="238.40" stroke="#333" stroke-width="1.0"/>
<line x1="586.20" y1="240.60" x2="622.30" y2="240.60" stroke="#777" stroke-width="0.8"/>
<polyline points="622.30,234.40 639.80,234.40 639.80,202.60" fill="none" stroke="#2a2a2a" stroke-width="0.9"/>
<polyline points="622.30,234.40 622.30,244.20 640.70,244.20 640.70,289.00" fill="none" stroke="#2a2a2a" stroke-width="0.9"/>
<line x1="580.20" y1="285.00" x2="640.70" y2="285.00" stroke="#2a2a2a" stroke-width="0.9"/>
<line x1="580.20" y1="289.20" x2="640.70" y2="289.20" stroke="#2a2a2a" stroke-width="0.9"/>
<line x1="609.60" y1="287.30" x2="634.50" y2="287.30" stroke="#555" stroke-width="0.8"/>
<line x1="609.60" y1="285.00" x2="609.60" y2="289.20" stroke="#2a2a2a" stroke-width="0.9"/>
<line x1="634.50" y1="285.00" x2="634.50" y2="289.20" stroke="#2a2a2a" stroke-width="0.9"/>
<line x1="632.00" y1="285.00" x2="632.00" y2="264.50" stroke="#2a2a2a" stroke-width="0.8"/>
<polyline points="632.00,264.60 630.00,264.70 628.02,264.99 626.08,265.48 624.19,266.15 622.38,267.01 620.67,268.04 619.06,269.23 617.58,270.58 616.23,272.06 615.04,273.67 614.01,275.38 613.15,277.19 612.48,279.08 611.99,281.02 611.70,283.00 611.60,285.00" fill="none" stroke="#2a2a2a" stroke-width="0.8"/>
<polyline points="639.80,202.60 705.60,202.60 705.60,213.40 649.60,213.40 649.60,289.70" fill="none" stroke="#2a2a2a" stroke-width="0.9"/>
<line x1="640.70" y1="289.00" x2="640.70" y2="289.70" stroke="#2a2a2a" stroke-width="0.9"/>
<polygon points="741.50,202.60 782.90,202.60 782.90,288.10 772.50,288.10 772.50,213.40 741.50,213.40" fill="none" stroke="#2a2a2a" stroke-width="0.9"/>
<line x1="705.60" y1="204.20" x2="741.50" y2="204.20" stroke="#222" stroke-width="1.3"/>
<line x1="705.60" y1="206.60" x2="741.50" y2="206.60" stroke="#555" stroke-width="0.8"/>
<line x1="705.60" y1="209.20" x2="741.50" y2="209.20" stroke="#888" stroke-width="0.9"/>
<line x1="774.60" y1="288.10" x2="774.60" y2="372.30" stroke="#555" stroke-width="0.8"/>
<line x1="777.20" y1="288.10" x2="777.20" y2="372.30" stroke="#444" stroke-width="0.8"/>
<line x1="780.00" y1="288.10" x2="780.00" y2="372.30" stroke="#444" stroke-width="0.8"/>
<line x1="610.30" y1="373.20" x2="772.50" y2="373.20" stroke="#2a2a2a" stroke-width="0.9"/>
<line x1="772.50" y1="372.10" x2="772.50" y2="382.40" stroke="#2a2a2a" stroke-width="0.9"/>
<line x1="772.50" y1="372.10" x2="851.70" y2="372.10" stroke="#2a2a2a" stroke-width="0.9"/>
<line x1="851.70" y1="372.10" x2="851.70" y2="458.60" stroke="#2a2a2a" stroke-width="0.9"/>
<line x1="812.10" y1="458.60" x2="851.70" y2="458.60" stroke="#2a2a2a" stroke-width="0.9"/>
<polyline points="843.30,372.10 843.30,376.80 847.00,376.80 847.00,453.90 812.10,453.90" fill="none" stroke="#2a2a2a" stroke-width="0.9"/>
<line x1="812.10" y1="375.60" x2="843.30" y2="375.60" stroke="#555" stroke-width="0.8"/>
<line x1="812.10" y1="372.10" x2="812.10" y2="533.80" stroke="#2a2a2a" stroke-width="0.9"/>
<line x1="800.90" y1="382.40" x2="800.90" y2="522.90" stroke="#2a2a2a" stroke-width="0.9"/>
<rect x="812.4" y="373.0" width="30.2" height="2.6" fill="#c4c4c4"/>
<line x1="812.50" y1="372.50" x2="812.50" y2="387.50" stroke="#111" stroke-width="1.3"/>
<polyline points="812.70,387.50 814.13,387.43 815.55,387.22 816.94,386.87 818.29,386.39 819.58,385.78 820.81,385.04 821.96,384.19 823.02,383.22 823.99,382.16 824.84,381.01 825.58,379.78 826.19,378.49 826.67,377.14 827.02,375.75 827.23,374.33 827.30,372.90" fill="none" stroke="#2a2a2a" stroke-width="0.8"/>
<line x1="842.50" y1="373.00" x2="842.50" y2="387.50" stroke="#2a2a2a" stroke-width="0.8"/>
<polyline points="842.50,387.50 841.07,387.43 839.65,387.22 838.26,386.87 836.91,386.39 835.62,385.78 834.39,385.04 833.24,384.19 832.18,383.22 831.21,382.16 830.36,381.01 829.62,379.78 829.01,378.49 828.53,377.14 828.18,375.75 827.97,374.33 827.90,372.90" fill="none" stroke="#2a2a2a" stroke-width="0.8"/>
<line x1="610.30" y1="373.20" x2="610.30" y2="382.40" stroke="#2a2a2a" stroke-width="0.9"/>
<line x1="610.30" y1="382.40" x2="641.00" y2="382.40" stroke="#2a2a2a" stroke-width="0.9"/>
<line x1="649.70" y1="382.40" x2="800.90" y2="382.40" stroke="#2a2a2a" stroke-width="0.9"/>
<line x1="641.00" y1="382.40" x2="641.00" y2="390.20" stroke="#2a2a2a" stroke-width="0.9"/>
<line x1="649.70" y1="382.40" x2="649.70" y2="390.20" stroke="#2a2a2a" stroke-width="0.9"/>
<line x1="641.00" y1="390.20" x2="649.70" y2="390.20" stroke="#2a2a2a" stroke-width="0.9"/>
<line x1="643.70" y1="390.20" x2="643.70" y2="439.90" stroke="#444" stroke-width="0.8"/>
<line x1="645.50" y1="390.20" x2="645.50" y2="439.90" stroke="#666" stroke-width="0.8"/>
<line x1="647.40" y1="390.20" x2="647.40" y2="439.90" stroke="#555" stroke-width="0.8"/>
<line x1="648.70" y1="390.20" x2="648.70" y2="439.90" stroke="#444" stroke-width="0.8"/>
<polyline points="649.70,444.40 649.70,439.90 641.00,439.90 641.00,455.00 649.70,455.00 649.70,452.30" fill="none" stroke="#2a2a2a" stroke-width="0.9"/>
<line x1="644.90" y1="455.00" x2="644.90" y2="480.30" stroke="#444" stroke-width="0.8"/>
<line x1="646.80" y1="455.00" x2="646.80" y2="480.30" stroke="#666" stroke-width="0.8"/>
<line x1="648.50" y1="455.00" x2="648.50" y2="480.30" stroke="#444" stroke-width="0.8"/>
<line x1="649.70" y1="458.00" x2="668.60" y2="458.00" stroke="#2a2a2a" stroke-width="0.8"/>
<polyline points="668.90,458.00 668.81,459.88 668.53,461.75 668.07,463.57 667.44,465.35 666.63,467.05 665.66,468.67 664.54,470.18 663.28,471.58 661.88,472.84 660.37,473.96 658.75,474.93 657.05,475.74 655.27,476.37 653.45,476.83 651.58,477.11 649.70,477.20" fill="none" stroke="#2a2a2a" stroke-width="0.8"/>
<polyline points="641.00,482.40 641.00,480.30 649.70,480.30 649.70,522.90" fill="none" stroke="#2a2a2a" stroke-width="0.9"/>
<line x1="649.70" y1="444.40" x2="800.90" y2="444.40" stroke="#2a2a2a" stroke-width="0.9"/>
<line x1="649.70" y1="452.30" x2="800.90" y2="452.30" stroke="#2a2a2a" stroke-width="0.9"/>
<line x1="649.70" y1="522.90" x2="672.60" y2="522.90" stroke="#2a2a2a" stroke-width="0.9"/>
<line x1="704.20" y1="522.90" x2="746.60" y2="522.90" stroke="#2a2a2a" stroke-width="0.9"/>
<line x1="777.60" y1="522.90" x2="800.90" y2="522.90" stroke="#2a2a2a" stroke-width="0.9"/>
<line x1="651.30" y1="533.80" x2="672.60" y2="533.80" stroke="#2a2a2a" stroke-width="0.9"/>
<line x1="704.20" y1="533.80" x2="746.60" y2="533.80" stroke="#2a2a2a" stroke-width="0.9"/>
<line x1="777.60" y1="533.80" x2="812.10" y2="533.80" stroke="#2a2a2a" stroke-width="0.9"/>
<line x1="672.60" y1="522.90" x2="672.60" y2="533.80" stroke="#2a2a2a" stroke-width="0.9"/>
<line x1="704.20" y1="522.90" x2="704.20" y2="533.80" stroke="#2a2a2a" stroke-width="0.9"/>
<line x1="746.60" y1="522.90" x2="746.60" y2="533.80" stroke="#2a2a2a" stroke-width="0.9"/>
<line x1="777.60" y1="522.90" x2="777.60" y2="533.80" stroke="#2a2a2a" stroke-width="0.9"/>
<line x1="672.60" y1="524.60" x2="704.20" y2="524.60" stroke="#999" stroke-width="0.8"/>
<line x1="672.60" y1="526.10" x2="704.20" y2="526.10" stroke="#111" stroke-width="1.3"/>
<line x1="672.60" y1="528.10" x2="704.20" y2="528.10" stroke="#333" stroke-width="1.0"/>
<line x1="746.60" y1="524.60" x2="777.60" y2="524.60" stroke="#999" stroke-width="0.8"/>
<line x1="746.60" y1="526.10" x2="777.60" y2="526.10" stroke="#111" stroke-width="1.3"/>
<line x1="746.60" y1="528.10" x2="777.60" y2="528.10" stroke="#333" stroke-width="1.0"/>
<line x1="651.30" y1="533.80" x2="651.30" y2="600.20" stroke="#2a2a2a" stroke-width="0.9"/>
<line x1="592.30" y1="600.20" x2="651.30" y2="600.20" stroke="#2a2a2a" stroke-width="0.9"/>
<line x1="592.30" y1="587.70" x2="592.30" y2="600.20" stroke="#2a2a2a" stroke-width="0.9"/>
<line x1="592.30" y1="567.00" x2="592.30" y2="570.50" stroke="#2a2a2a" stroke-width="0.9"/>
<line x1="592.30" y1="478.70" x2="592.30" y2="556.20" stroke="#2a2a2a" stroke-width="0.9"/>
<line x1="592.30" y1="478.70" x2="601.50" y2="478.70" stroke="#2a2a2a" stroke-width="0.9"/>
<line x1="601.50" y1="478.70" x2="601.50" y2="570.50" stroke="#2a2a2a" stroke-width="0.9"/>
<line x1="592.30" y1="570.50" x2="601.50" y2="570.50" stroke="#2a2a2a" stroke-width="0.9"/>
<line x1="592.30" y1="587.70" x2="601.50" y2="587.70" stroke="#2a2a2a" stroke-width="0.9"/>
<line x1="593.70" y1="570.50" x2="593.70" y2="587.70" stroke="#444" stroke-width="0.8"/>
<line x1="596.00" y1="570.50" x2="596.00" y2="587.70" stroke="#444" stroke-width="0.8"/>
<line x1="598.30" y1="570.50" x2="598.30" y2="587.70" stroke="#444" stroke-width="0.8"/>
<polyline points="601.50,587.70 601.50,591.20 640.60,591.20 640.60,487.30" fill="none" stroke="#2a2a2a" stroke-width="0.9"/>
<line x1="601.50" y1="482.40" x2="641.00" y2="482.40" stroke="#2a2a2a" stroke-width="0.9"/>
<line x1="601.50" y1="487.30" x2="641.00" y2="487.30" stroke="#2a2a2a" stroke-width="0.9"/>
<line x1="604.50" y1="482.40" x2="604.50" y2="487.30" stroke="#2a2a2a" stroke-width="0.9"/>
<line x1="629.30" y1="482.40" x2="629.30" y2="487.30" stroke="#2a2a2a" stroke-width="0.9"/>
<line x1="604.50" y1="484.40" x2="629.30" y2="484.40" stroke="#555" stroke-width="0.8"/>
<line x1="606.60" y1="487.30" x2="606.60" y2="507.70" stroke="#2a2a2a" stroke-width="0.8"/>
<polyline points="606.60,507.90 608.62,507.80 610.62,507.50 612.58,507.01 614.48,506.33 616.31,505.47 618.04,504.43 619.67,503.22 621.17,501.87 622.52,500.37 623.73,498.74 624.77,497.01 625.63,495.18 626.31,493.28 626.80,491.32 627.10,489.32 627.20,487.30" fill="none" stroke="#2a2a2a" stroke-width="0.8"/>
<line x1="601.50" y1="522.70" x2="640.60" y2="522.70" stroke="#999" stroke-width="1.3" stroke-dasharray="4.6 4.4"/>
<line x1="395.20" y1="295.60" x2="395.20" y2="373.30" stroke="#111" stroke-width="1.5"/>
<line x1="397.70" y1="295.60" x2="397.70" y2="373.30" stroke="#555" stroke-width="0.8"/>
<line x1="399.60" y1="295.60" x2="399.60" y2="373.30" stroke="#333" stroke-width="0.8"/>
<line x1="395.20" y1="347.80" x2="399.60" y2="347.80" stroke="#444" stroke-width="0.8"/>
<line x1="399.60" y1="369.20" x2="418.60" y2="369.20" stroke="#2a2a2a" stroke-width="0.8"/>
<polyline points="418.90,369.20 418.81,367.31 418.53,365.43 418.07,363.60 417.43,361.81 416.62,360.10 415.65,358.48 414.52,356.96 413.25,355.55 411.84,354.28 410.32,353.15 408.70,352.18 406.99,351.37 405.20,350.73 403.37,350.27 401.49,349.99 399.60,349.90" fill="none" stroke="#2a2a2a" stroke-width="0.8"/>
<polyline points="446.30,456.70 446.30,373.30 392.30,373.30 392.30,384.70 435.50,384.70 435.50,456.70 446.30,456.70" fill="none" stroke="#2a2a2a" stroke-width="0.9"/>
<line x1="438.90" y1="456.70" x2="438.90" y2="556.20" stroke="#666" stroke-width="0.8"/>
<line x1="441.50" y1="456.70" x2="441.50" y2="556.20" stroke="#555" stroke-width="0.8"/>
<line x1="443.00" y1="456.70" x2="443.00" y2="556.20" stroke="#333" stroke-width="0.8"/>
<line x1="439.00" y1="480.00" x2="443.00" y2="480.00" stroke="#555" stroke-width="0.8"/>
<line x1="443.00" y1="529.50" x2="464.20" y2="529.50" stroke="#2a2a2a" stroke-width="0.8"/>
<polyline points="464.20,529.50 464.17,528.34 464.07,527.19 463.92,526.05 463.70,524.91 463.42,523.79 463.07,522.69 462.67,521.60 462.21,520.54 461.70,519.51 461.12,518.50 460.50,517.53 459.82,516.59 459.09,515.70 458.31,514.84 457.49,514.03 456.63,513.26" fill="none" stroke="#2a2a2a" stroke-width="0.8"/>
<rect x="439.3" y="528.3" width="2.2" height="2.4" fill="#888"/>
<polyline points="592.30,556.20 435.50,556.20 435.50,567.00 592.30,567.00" fill="none" stroke="#2a2a2a" stroke-width="0.9"/>
<polyline points="585.30,381.80 585.30,373.20 537.30,373.20 537.30,452.70 601.50,452.70 601.50,444.50 542.50,444.50 542.50,381.80 585.30,381.80" fill="none" stroke="#2a2a2a" stroke-width="0.9"/>
<line x1="576.40" y1="381.80" x2="576.40" y2="444.50" stroke="#2a2a2a" stroke-width="0.9"/>
<line x1="580.20" y1="381.80" x2="580.20" y2="444.50" stroke="#2a2a2a" stroke-width="0.9"/>
<line x1="576.40" y1="385.20" x2="580.20" y2="385.20" stroke="#2a2a2a" stroke-width="0.9"/>
<line x1="576.40" y1="410.10" x2="580.20" y2="410.10" stroke="#2a2a2a" stroke-width="0.9"/>
<line x1="576.40" y1="388.00" x2="554.20" y2="388.00" stroke="#2a2a2a" stroke-width="0.8"/>
<polyline points="554.20,388.00 554.31,390.18 554.63,392.33 555.16,394.44 555.89,396.50 556.82,398.47 557.94,400.33 559.24,402.08 560.70,403.70 562.32,405.16 564.07,406.46 565.93,407.58 567.90,408.51 569.96,409.24 572.07,409.77 574.22,410.09 576.40,410.20" fill="none" stroke="#2a2a2a" stroke-width="0.8"/>
<line x1="585.30" y1="377.40" x2="610.30" y2="377.40" stroke="#444" stroke-width="0.8"/>
<line x1="585.30" y1="379.70" x2="610.30" y2="379.70" stroke="#444" stroke-width="0.8"/>
<line x1="587.30" y1="377.40" x2="587.30" y2="355.60" stroke="#2a2a2a" stroke-width="0.8"/>
<polyline points="587.30,355.60 589.28,355.69 591.25,355.97 593.18,356.42 595.06,357.06 596.87,357.86 598.60,358.83 600.23,359.95 601.76,361.22 603.16,362.63 604.42,364.16 605.53,365.80 606.49,367.54 607.29,369.35 607.91,371.24 608.35,373.17 608.62,375.13" fill="none" stroke="#2a2a2a" stroke-width="0.8"/>
<polyline points="557.40,452.70 557.40,484.00 592.30,484.00" fill="none" stroke="#2a2a2a" stroke-width="0.9"/>
<line x1="576.70" y1="452.70" x2="576.70" y2="484.00" stroke="#2a2a2a" stroke-width="0.9"/>
<line x1="557.40" y1="468.30" x2="576.70" y2="468.30" stroke="#444" stroke-width="0.8"/>
<line x1="567.40" y1="452.70" x2="567.40" y2="484.00" stroke="#333" stroke-width="0.8"/>
<polyline points="567.40,453.20 576.20,469.00 567.40,483.60" fill="none" stroke="#333" stroke-width="0.8"/>
<line x1="594.60" y1="452.70" x2="594.60" y2="478.70" stroke="#444" stroke-width="0.9"/>
<line x1="597.50" y1="452.70" x2="597.50" y2="478.70" stroke="#444" stroke-width="0.9"/>
<line x1="599.90" y1="452.70" x2="599.90" y2="478.70" stroke="#999" stroke-width="1.6"/>
<line x1="597.50" y1="456.50" x2="620.80" y2="456.50" stroke="#2a2a2a" stroke-width="0.8"/>
<polyline points="620.70,456.50 620.60,458.50 620.31,460.48 619.82,462.42 619.15,464.31 618.29,466.12 617.26,467.83 616.07,469.44 614.72,470.92 613.24,472.27 611.63,473.46 609.92,474.49 608.11,475.35 606.22,476.02 604.28,476.51 602.30,476.80 600.30,476.90" fill="none" stroke="#2a2a2a" stroke-width="0.8"/>
<line x1="648.30" y1="391.80" x2="668.70" y2="391.80" stroke="#444" stroke-width="0.8"/>
<line x1="668.70" y1="391.80" x2="668.70" y2="437.30" stroke="#444" stroke-width="0.8"/>
<line x1="648.30" y1="437.30" x2="668.70" y2="437.30" stroke="#444" stroke-width="0.8"/>
<polyline points="647.50,412.30 649.33,412.22 651.14,411.99 652.93,411.60 654.68,411.07 656.37,410.38 658.01,409.56 659.56,408.60 661.03,407.51 662.40,406.30 663.66,404.98 664.81,403.55 665.83,402.03 666.72,400.44 667.47,398.77 668.07,397.04 668.53,395.27" fill="none" stroke="#222" stroke-width="0.9"/>
<polyline points="647.50,416.80 648.99,416.85 650.47,417.00 651.93,417.25 653.38,417.60 654.80,418.05 656.18,418.59 657.53,419.22 658.83,419.94 660.08,420.75 661.27,421.64 662.40,422.61 663.46,423.66 664.45,424.77 665.35,425.95 666.18,427.18 666.92,428.47" fill="none" stroke="#222" stroke-width="0.9"/>
<line x1="646.00" y1="412.30" x2="651.00" y2="412.30" stroke="#444" stroke-width="0.8"/>
<line x1="646.00" y1="416.80" x2="651.00" y2="416.80" stroke="#444" stroke-width="0.8"/>
<line x1="682.90" y1="413.20" x2="682.90" y2="443.80" stroke="#2a2a2a" stroke-width="0.9"/>
<line x1="682.90" y1="413.20" x2="711.50" y2="413.20" stroke="#2a2a2a" stroke-width="0.9"/>
<line x1="692.30" y1="413.20" x2="692.30" y2="444.00" stroke="#333" stroke-width="0.8"/>
<line x1="701.70" y1="413.20" x2="701.70" y2="444.00" stroke="#333" stroke-width="0.8"/>
<line x1="711.30" y1="413.20" x2="711.30" y2="444.00" stroke="#333" stroke-width="0.8"/>
<line x1="720.20" y1="414.00" x2="720.20" y2="444.00" stroke="#444" stroke-width="0.8" stroke-dasharray="3.6 3.0"/>
<line x1="729.50" y1="414.00" x2="729.50" y2="444.00" stroke="#444" stroke-width="0.8" stroke-dasharray="3.6 3.0"/>
<line x1="738.90" y1="414.00" x2="738.90" y2="444.00" stroke="#444" stroke-width="0.8" stroke-dasharray="3.6 3.0"/>
<line x1="748.10" y1="414.00" x2="748.10" y2="444.00" stroke="#444" stroke-width="0.8" stroke-dasharray="3.6 3.0"/>
<line x1="757.60" y1="414.00" x2="757.60" y2="444.00" stroke="#444" stroke-width="0.8" stroke-dasharray="3.6 3.0"/>
<line x1="766.80" y1="414.00" x2="766.80" y2="444.00" stroke="#444" stroke-width="0.8" stroke-dasharray="3.6 3.0"/>
<line x1="711.50" y1="413.10" x2="767.00" y2="413.10" stroke="#888" stroke-width="0.8" stroke-dasharray="4.2 3.6"/>
<line x1="721.00" y1="428.40" x2="766.00" y2="428.40" stroke="#333" stroke-width="0.8" stroke-dasharray="4.2 3.6"/>
<line x1="711.50" y1="443.40" x2="729.80" y2="414.50" stroke="#222" stroke-width="0.8"/>
<line x1="711.50" y1="414.50" x2="720.70" y2="428.40" stroke="#222" stroke-width="0.8"/>
<polyline points="757.70,414.50 766.30,428.40 758.60,442.30" fill="none" stroke="#333" stroke-width="0.8" stroke-dasharray="5 2.5"/>
<line x1="711.50" y1="382.40" x2="711.50" y2="410.10" stroke="#333" stroke-width="0.8"/>
<line x1="713.50" y1="382.40" x2="713.50" y2="410.10" stroke="#444" stroke-width="0.8"/>
<line x1="754.80" y1="382.40" x2="754.80" y2="410.10" stroke="#444" stroke-width="0.8"/>
<line x1="758.20" y1="382.40" x2="758.20" y2="410.10" stroke="#333" stroke-width="0.8"/>
<line x1="711.50" y1="410.10" x2="758.20" y2="410.10" stroke="#333" stroke-width="0.9"/>
<line x1="720.20" y1="383.00" x2="720.20" y2="409.50" stroke="#555" stroke-width="0.8" stroke-dasharray="3.6 3.0"/>
<line x1="729.50" y1="383.00" x2="729.50" y2="409.50" stroke="#555" stroke-width="0.8" stroke-dasharray="3.6 3.0"/>
<line x1="738.90" y1="383.00" x2="738.90" y2="409.50" stroke="#555" stroke-width="0.8" stroke-dasharray="3.6 3.0"/>
<line x1="748.10" y1="383.00" x2="748.10" y2="409.50" stroke="#555" stroke-width="0.8" stroke-dasharray="3.6 3.0"/>
<line x1="714.00" y1="397.60" x2="754.80" y2="397.60" stroke="#555" stroke-width="0.8" stroke-dasharray="3.6 3.0"/>
<line x1="713.50" y1="388.50" x2="720.70" y2="383.20" stroke="#555" stroke-width="0.8"/>
<line x1="313.80" y1="328.00" x2="359.40" y2="328.00" stroke="#444" stroke-width="0.8"/>
<line x1="323.40" y1="318.60" x2="323.40" y2="337.20" stroke="#444" stroke-width="0.8"/>
<circle cx="323.40" cy="328.00" r="4.4" fill="#fff" stroke="#111" stroke-width="1"/>
<path d="M323.40,328.00 L319.00,328.00 A4.4,4.4 0 0 1 323.40,323.60 Z" fill="#111"/>
<path d="M323.40,328.00 L327.80,328.00 A4.4,4.4 0 0 1 323.40,332.40 Z" fill="#111"/>
<line x1="319.00" y1="328.00" x2="327.80" y2="328.00" stroke="#444" stroke-width="0.6"/>
<line x1="323.40" y1="323.60" x2="323.40" y2="332.40" stroke="#444" stroke-width="0.6"/>
<text x="338.60" y="325.60" font-size="10.6" fill="#777" font-weight="normal" text-anchor="start" textLength="20.3" lengthAdjust="spacingAndGlyphs">-0,59</text>
<line x1="469.45" y1="385.80" x2="513.00" y2="385.80" stroke="#444" stroke-width="0.8"/>
<line x1="479.05" y1="376.40" x2="479.05" y2="395.00" stroke="#444" stroke-width="0.8"/>
<circle cx="479.05" cy="385.80" r="4.4" fill="#fff" stroke="#111" stroke-width="1"/>
<path d="M479.05,385.80 L474.65,385.80 A4.4,4.4 0 0 1 479.05,381.40 Z" fill="#111"/>
<path d="M479.05,385.80 L483.45,385.80 A4.4,4.4 0 0 1 479.05,390.20 Z" fill="#111"/>
<line x1="474.65" y1="385.80" x2="483.45" y2="385.80" stroke="#444" stroke-width="0.6"/>
<line x1="479.05" y1="381.40" x2="479.05" y2="390.20" stroke="#444" stroke-width="0.6"/>
<text x="490.00" y="383.20" font-size="10.6" fill="#777" font-weight="normal" text-anchor="start" textLength="22.5" lengthAdjust="spacingAndGlyphs">-0,44</text>
<line x1="359.20" y1="557.80" x2="403.60" y2="557.80" stroke="#444" stroke-width="0.8"/>
<line x1="368.80" y1="548.40" x2="368.80" y2="567.00" stroke="#444" stroke-width="0.8"/>
<circle cx="368.80" cy="557.80" r="4.4" fill="#fff" stroke="#111" stroke-width="1"/>
<path d="M368.80,557.80 L364.40,557.80 A4.4,4.4 0 0 1 368.80,553.40 Z" fill="#111"/>
<path d="M368.80,557.80 L373.20,557.80 A4.4,4.4 0 0 1 368.80,562.20 Z" fill="#111"/>
<line x1="364.40" y1="557.80" x2="373.20" y2="557.80" stroke="#444" stroke-width="0.6"/>
<line x1="368.80" y1="553.40" x2="368.80" y2="562.20" stroke="#444" stroke-width="0.6"/>
<text x="380.30" y="555.80" font-size="10.6" fill="#777" font-weight="normal" text-anchor="start" textLength="22.8" lengthAdjust="spacingAndGlyphs">-0,59</text>
<line x1="723.70" y1="166.30" x2="767.80" y2="166.30" stroke="#444" stroke-width="0.8"/>
<line x1="733.30" y1="156.90" x2="733.30" y2="175.50" stroke="#444" stroke-width="0.8"/>
<circle cx="733.30" cy="166.30" r="4.4" fill="#fff" stroke="#111" stroke-width="1"/>
<path d="M733.30,166.30 L728.90,166.30 A4.4,4.4 0 0 1 733.30,161.90 Z" fill="#111"/>
<path d="M733.30,166.30 L737.70,166.30 A4.4,4.4 0 0 1 733.30,170.70 Z" fill="#111"/>
<line x1="728.90" y1="166.30" x2="737.70" y2="166.30" stroke="#444" stroke-width="0.6"/>
<line x1="733.30" y1="161.90" x2="733.30" y2="170.70" stroke="#444" stroke-width="0.6"/>
<text x="744.50" y="164.40" font-size="10.6" fill="#777" font-weight="normal" text-anchor="start" textLength="22.8" lengthAdjust="spacingAndGlyphs">-0,59</text>
<line x1="676.30" y1="314.40" x2="720.80" y2="314.40" stroke="#444" stroke-width="0.8"/>
<line x1="685.90" y1="305.00" x2="685.90" y2="323.60" stroke="#444" stroke-width="0.8"/>
<circle cx="685.90" cy="314.40" r="4.4" fill="#fff" stroke="#111" stroke-width="1"/>
<path d="M685.90,314.40 L681.50,314.40 A4.4,4.4 0 0 1 685.90,310.00 Z" fill="#111"/>
<path d="M685.90,314.40 L690.30,314.40 A4.4,4.4 0 0 1 685.90,318.80 Z" fill="#111"/>
<line x1="681.50" y1="314.40" x2="690.30" y2="314.40" stroke="#444" stroke-width="0.6"/>
<line x1="685.90" y1="310.00" x2="685.90" y2="318.80" stroke="#444" stroke-width="0.6"/>
<text x="695.30" y="312.40" font-size="10.6" fill="#777" font-weight="normal" text-anchor="start" textLength="25.0" lengthAdjust="spacingAndGlyphs">±0,00</text>
<line x1="592.90" y1="438.50" x2="637.80" y2="438.50" stroke="#444" stroke-width="0.8"/>
<line x1="602.50" y1="429.10" x2="602.50" y2="447.70" stroke="#444" stroke-width="0.8"/>
<circle cx="602.50" cy="438.50" r="4.4" fill="#fff" stroke="#111" stroke-width="1"/>
<path d="M602.50,438.50 L598.10,438.50 A4.4,4.4 0 0 1 602.50,434.10 Z" fill="#111"/>
<path d="M602.50,438.50 L606.90,438.50 A4.4,4.4 0 0 1 602.50,442.90 Z" fill="#111"/>
<line x1="598.10" y1="438.50" x2="606.90" y2="438.50" stroke="#444" stroke-width="0.6"/>
<line x1="602.50" y1="434.10" x2="602.50" y2="442.90" stroke="#444" stroke-width="0.6"/>
<text x="612.60" y="436.50" font-size="10.6" fill="#777" font-weight="normal" text-anchor="start" textLength="24.7" lengthAdjust="spacingAndGlyphs">±0,00</text>
<line x1="701.60" y1="506.40" x2="746.40" y2="506.40" stroke="#444" stroke-width="0.8"/>
<line x1="711.20" y1="497.00" x2="711.20" y2="515.60" stroke="#444" stroke-width="0.8"/>
<circle cx="711.20" cy="506.40" r="4.4" fill="#fff" stroke="#111" stroke-width="1"/>
<path d="M711.20,506.40 L706.80,506.40 A4.4,4.4 0 0 1 711.20,502.00 Z" fill="#111"/>
<path d="M711.20,506.40 L715.60,506.40 A4.4,4.4 0 0 1 711.20,510.80 Z" fill="#111"/>
<line x1="706.80" y1="506.40" x2="715.60" y2="506.40" stroke="#444" stroke-width="0.6"/>
<line x1="711.20" y1="502.00" x2="711.20" y2="510.80" stroke="#444" stroke-width="0.6"/>
<text x="720.50" y="504.60" font-size="10.6" fill="#777" font-weight="normal" text-anchor="start" textLength="25.4" lengthAdjust="spacingAndGlyphs">±0,00</text>
<line x1="811.50" y1="435.40" x2="855.60" y2="435.40" stroke="#444" stroke-width="0.8"/>
<line x1="821.10" y1="426.00" x2="821.10" y2="444.60" stroke="#444" stroke-width="0.8"/>
<circle cx="821.10" cy="435.40" r="4.4" fill="#fff" stroke="#111" stroke-width="1"/>
<path d="M821.10,435.40 L816.70,435.40 A4.4,4.4 0 0 1 821.10,431.00 Z" fill="#111"/>
<path d="M821.10,435.40 L825.50,435.40 A4.4,4.4 0 0 1 821.10,439.80 Z" fill="#111"/>
<line x1="816.70" y1="435.40" x2="825.50" y2="435.40" stroke="#444" stroke-width="0.6"/>
<line x1="821.10" y1="431.00" x2="821.10" y2="439.80" stroke="#444" stroke-width="0.6"/>
<text x="830.50" y="433.30" font-size="10.6" fill="#777" font-weight="normal" text-anchor="start" textLength="24.6" lengthAdjust="spacingAndGlyphs">±0,00</text>
<line x1="666.50" y1="437.80" x2="666.50" y2="394.00" stroke="#444" stroke-width="0.8"/>
<line x1="657.10" y1="428.20" x2="675.70" y2="428.20" stroke="#444" stroke-width="0.8"/>
<circle cx="666.50" cy="428.20" r="4.4" fill="#fff" stroke="#111" stroke-width="1"/>
<path d="M666.50,428.20 L666.50,423.80 A4.4,4.4 0 0 1 670.90,428.20 Z" fill="#111"/>
<path d="M666.50,428.20 L666.50,432.60 A4.4,4.4 0 0 1 662.10,428.20 Z" fill="#111"/>
<text x="665.00" y="420.00" font-size="10.6" fill="#777" font-weight="normal" text-anchor="start" textLength="25.5" lengthAdjust="spacingAndGlyphs" transform="rotate(-90 665.00 420.00)">±0,00</text>
<line x1="785.00" y1="437.20" x2="785.00" y2="393.00" stroke="#444" stroke-width="0.8"/>
<line x1="775.60" y1="427.60" x2="794.20" y2="427.60" stroke="#444" stroke-width="0.8"/>
<circle cx="785.00" cy="427.60" r="4.4" fill="#fff" stroke="#111" stroke-width="1"/>
<path d="M785.00,427.60 L785.00,423.20 A4.4,4.4 0 0 1 789.40,427.60 Z" fill="#111"/>
<path d="M785.00,427.60 L785.00,432.00 A4.4,4.4 0 0 1 780.60,427.60 Z" fill="#111"/>
<text x="782.80" y="418.00" font-size="10.6" fill="#777" font-weight="normal" text-anchor="start" textLength="24.5" lengthAdjust="spacingAndGlyphs" transform="rotate(-90 782.80 418.00)">+1,38</text>
<line x1="458.90" y1="192.50" x2="458.90" y2="220.50" stroke="#666" stroke-width="1.1"/>
<text x="456.70" y="200.60" font-size="8.6" fill="#000" font-weight="bold" text-anchor="start" textLength="10.5" lengthAdjust="spacingAndGlyphs" transform="rotate(-90 456.70 200.60)" stroke="#000" stroke-width="0.35">100</text>
<text x="466.20" y="200.60" font-size="8.6" fill="#000" font-weight="bold" text-anchor="start" textLength="10.5" lengthAdjust="spacingAndGlyphs" transform="rotate(-90 466.20 200.60)" stroke="#000" stroke-width="0.35">120</text>
<line x1="552.40" y1="192.50" x2="552.40" y2="220.50" stroke="#666" stroke-width="1.1"/>
<text x="550.20" y="200.60" font-size="8.6" fill="#000" font-weight="bold" text-anchor="start" textLength="10.5" lengthAdjust="spacingAndGlyphs" transform="rotate(-90 550.20 200.60)" stroke="#000" stroke-width="0.35">100</text>
<text x="559.70" y="200.60" font-size="8.6" fill="#000" font-weight="bold" text-anchor="start" textLength="10.5" lengthAdjust="spacingAndGlyphs" transform="rotate(-90 559.70 200.60)" stroke="#000" stroke-width="0.35">120</text>
<line x1="723.70" y1="188.30" x2="723.70" y2="216.50" stroke="#666" stroke-width="1.1"/>
<text x="721.50" y="198.60" font-size="8.6" fill="#000" font-weight="bold" text-anchor="start" textLength="10.5" lengthAdjust="spacingAndGlyphs" transform="rotate(-90 721.50 198.60)" stroke="#000" stroke-width="0.35">115</text>
<text x="731.00" y="198.60" font-size="8.6" fill="#000" font-weight="bold" text-anchor="start" textLength="7.0" lengthAdjust="spacingAndGlyphs" transform="rotate(-90 731.00 198.60)" stroke="#000" stroke-width="0.35">50</text>
<line x1="604.70" y1="220.40" x2="604.70" y2="247.30" stroke="#666" stroke-width="1.1"/>
<text x="602.50" y="229.20" font-size="8.6" fill="#000" font-weight="bold" text-anchor="start" textLength="10.5" lengthAdjust="spacingAndGlyphs" transform="rotate(-90 602.50 229.20)" stroke="#000" stroke-width="0.35">115</text>
<text x="612.00" y="229.20" font-size="8.6" fill="#000" font-weight="bold" text-anchor="start" textLength="7.0" lengthAdjust="spacingAndGlyphs" transform="rotate(-90 612.00 229.20)" stroke="#000" stroke-width="0.35">50</text>
<line x1="419.40" y1="280.00" x2="419.40" y2="294.60" stroke="#666" stroke-width="1.1"/>
<text x="417.20" y="306.40" font-size="8.6" fill="#000" font-weight="bold" text-anchor="start" textLength="7.0" lengthAdjust="spacingAndGlyphs" transform="rotate(-90 417.20 306.40)" stroke="#000" stroke-width="0.35">80</text>
<text x="426.70" y="306.40" font-size="8.6" fill="#000" font-weight="bold" text-anchor="start" textLength="10.5" lengthAdjust="spacingAndGlyphs" transform="rotate(-90 426.70 306.40)" stroke="#000" stroke-width="0.35">210</text>
<line x1="558.80" y1="280.00" x2="558.80" y2="294.60" stroke="#666" stroke-width="1.1"/>
<text x="556.60" y="306.40" font-size="8.6" fill="#000" font-weight="bold" text-anchor="start" textLength="7.0" lengthAdjust="spacingAndGlyphs" transform="rotate(-90 556.60 306.40)" stroke="#000" stroke-width="0.35">80</text>
<text x="566.10" y="306.40" font-size="8.6" fill="#000" font-weight="bold" text-anchor="start" textLength="10.5" lengthAdjust="spacingAndGlyphs" transform="rotate(-90 566.10 306.40)" stroke="#000" stroke-width="0.35">210</text>
<line x1="621.00" y1="273.00" x2="621.00" y2="301.20" stroke="#666" stroke-width="1.1"/>
<text x="618.80" y="301.20" font-size="8.6" fill="#000" font-weight="bold" text-anchor="start" textLength="7.0" lengthAdjust="spacingAndGlyphs" transform="rotate(-90 618.80 301.20)" stroke="#000" stroke-width="0.35">80</text>
<text x="628.30" y="301.20" font-size="8.6" fill="#000" font-weight="bold" text-anchor="start" textLength="10.5" lengthAdjust="spacingAndGlyphs" transform="rotate(-90 628.30 301.20)" stroke="#000" stroke-width="0.35">210</text>
<line x1="597.80" y1="364.00" x2="597.80" y2="386.80" stroke="#666" stroke-width="1.1"/>
<text x="595.60" y="392.40" font-size="8.6" fill="#000" font-weight="bold" text-anchor="start" textLength="7.0" lengthAdjust="spacingAndGlyphs" transform="rotate(-90 595.60 392.40)" stroke="#000" stroke-width="0.35">80</text>
<text x="605.10" y="392.40" font-size="8.6" fill="#000" font-weight="bold" text-anchor="start" textLength="10.5" lengthAdjust="spacingAndGlyphs" transform="rotate(-90 605.10 392.40)" stroke="#000" stroke-width="0.35">210</text>
<line x1="617.30" y1="471.20" x2="617.30" y2="497.50" stroke="#666" stroke-width="1.1"/>
<text x="615.10" y="479.80" font-size="8.6" fill="#000" font-weight="bold" text-anchor="start" textLength="7.0" lengthAdjust="spacingAndGlyphs" transform="rotate(-90 615.10 479.80)" stroke="#000" stroke-width="0.35">80</text>
<text x="624.60" y="479.80" font-size="8.6" fill="#000" font-weight="bold" text-anchor="start" textLength="10.5" lengthAdjust="spacingAndGlyphs" transform="rotate(-90 624.60 479.80)" stroke="#000" stroke-width="0.35">210</text>
<line x1="827.30" y1="356.40" x2="827.30" y2="383.60" stroke="#666" stroke-width="1.1"/>
<text x="825.10" y="366.60" font-size="8.6" fill="#000" font-weight="bold" text-anchor="start" textLength="10.5" lengthAdjust="spacingAndGlyphs" transform="rotate(-90 825.10 366.60)" stroke="#000" stroke-width="0.35">100</text>
<text x="834.60" y="366.60" font-size="8.6" fill="#000" font-weight="bold" text-anchor="start" textLength="10.5" lengthAdjust="spacingAndGlyphs" transform="rotate(-90 834.60 366.60)" stroke="#000" stroke-width="0.35">150</text>
<line x1="689.20" y1="522.00" x2="689.20" y2="550.00" stroke="#666" stroke-width="1.1"/>
<text x="687.00" y="545.40" font-size="8.6" fill="#000" font-weight="bold" text-anchor="start" textLength="10.5" lengthAdjust="spacingAndGlyphs" transform="rotate(-90 687.00 545.40)" stroke="#000" stroke-width="0.35">100</text>
<text x="696.50" y="545.40" font-size="8.6" fill="#000" font-weight="bold" text-anchor="start" textLength="7.0" lengthAdjust="spacingAndGlyphs" transform="rotate(-90 696.50 545.40)" stroke="#000" stroke-width="0.35">90</text>
<line x1="761.90" y1="522.00" x2="761.90" y2="550.00" stroke="#666" stroke-width="1.1"/>
<text x="759.70" y="545.40" font-size="8.6" fill="#000" font-weight="bold" text-anchor="start" textLength="10.5" lengthAdjust="spacingAndGlyphs" transform="rotate(-90 759.70 545.40)" stroke="#000" stroke-width="0.35">100</text>
<text x="769.20" y="545.40" font-size="8.6" fill="#000" font-weight="bold" text-anchor="start" textLength="7.0" lengthAdjust="spacingAndGlyphs" transform="rotate(-90 769.20 545.40)" stroke="#000" stroke-width="0.35">90</text>
<text x="471.30" y="202.90" font-size="8.6" fill="#000" font-weight="bold" text-anchor="start" textLength="17.8" lengthAdjust="spacingAndGlyphs" stroke="#000" stroke-width="0.35">p=105</text>
<text x="561.50" y="202.90" font-size="8.6" fill="#000" font-weight="bold" text-anchor="start" textLength="17.8" lengthAdjust="spacingAndGlyphs" stroke="#000" stroke-width="0.35">p=105</text>
<text x="736.70" y="200.00" font-size="8.6" fill="#000" font-weight="bold" text-anchor="start" textLength="17.6" lengthAdjust="spacingAndGlyphs" stroke="#000" stroke-width="0.35">p=140</text>
<text x="616.90" y="230.80" font-size="8.6" fill="#000" font-weight="bold" text-anchor="start" textLength="17.9" lengthAdjust="spacingAndGlyphs" stroke="#000" stroke-width="0.35">p=140</text>
<text x="700.30" y="542.60" font-size="8.6" fill="#000" font-weight="bold" text-anchor="start" textLength="17.2" lengthAdjust="spacingAndGlyphs" stroke="#000" stroke-width="0.35">p=110</text>
<text x="773.90" y="542.60" font-size="8.6" fill="#000" font-weight="bold" text-anchor="start" textLength="17.2" lengthAdjust="spacingAndGlyphs" stroke="#000" stroke-width="0.35">p=110</text>
<text x="589.20" y="608.20" font-size="8.6" fill="#000" font-weight="bold" text-anchor="start" textLength="17.4" lengthAdjust="spacingAndGlyphs" transform="rotate(-90 589.20 608.20)" stroke="#000" stroke-width="0.35">p=155</text>
<line x1="385.00" y1="335.10" x2="408.60" y2="335.10" stroke="#555" stroke-width="1.0"/>
<text x="401.40" y="332.60" font-size="8.6" fill="#000" font-weight="bold" text-anchor="start" textLength="10.5" lengthAdjust="spacingAndGlyphs" stroke="#000" stroke-width="0.35">264</text>
<text x="401.40" y="342.20" font-size="8.6" fill="#000" font-weight="bold" text-anchor="start" textLength="10.5" lengthAdjust="spacingAndGlyphs" stroke="#000" stroke-width="0.35">220</text>
<line x1="431.20" y1="506.60" x2="457.70" y2="506.60" stroke="#555" stroke-width="1.0"/>
<text x="446.80" y="503.80" font-size="8.6" fill="#000" font-weight="bold" text-anchor="start" textLength="10.5" lengthAdjust="spacingAndGlyphs" stroke="#000" stroke-width="0.35">320</text>
<text x="446.80" y="513.60" font-size="8.6" fill="#000" font-weight="bold" text-anchor="start" textLength="10.5" lengthAdjust="spacingAndGlyphs" stroke="#000" stroke-width="0.35">220</text>
<line x1="762.50" y1="330.00" x2="790.70" y2="330.00" stroke="#555" stroke-width="1.0"/>
<text x="783.00" y="327.80" font-size="8.6" fill="#000" font-weight="bold" text-anchor="start" textLength="10.5" lengthAdjust="spacingAndGlyphs" stroke="#000" stroke-width="0.35">270</text>
<text x="783.00" y="336.90" font-size="8.6" fill="#000" font-weight="bold" text-anchor="start" textLength="10.5" lengthAdjust="spacingAndGlyphs" stroke="#000" stroke-width="0.35">220</text>
<line x1="632.00" y1="415.00" x2="660.00" y2="415.00" stroke="#555" stroke-width="1.0"/>
<text x="632.20" y="412.60" font-size="8.6" fill="#000" font-weight="bold" text-anchor="start" textLength="10.5" lengthAdjust="spacingAndGlyphs" stroke="#000" stroke-width="0.35">160</text>
<text x="632.20" y="422.50" font-size="8.6" fill="#000" font-weight="bold" text-anchor="start" textLength="10.5" lengthAdjust="spacingAndGlyphs" stroke="#000" stroke-width="0.35">210</text>
<line x1="564.30" y1="399.20" x2="590.00" y2="399.20" stroke="#555" stroke-width="1.0"/>
<text x="580.50" y="397.30" font-size="8.6" fill="#000" font-weight="bold" text-anchor="start" textLength="7.0" lengthAdjust="spacingAndGlyphs" stroke="#000" stroke-width="0.35">80</text>
<text x="580.50" y="406.70" font-size="8.6" fill="#000" font-weight="bold" text-anchor="start" textLength="10.5" lengthAdjust="spacingAndGlyphs" stroke="#000" stroke-width="0.35">210</text>
<line x1="700.30" y1="399.00" x2="716.60" y2="399.00" stroke="#555" stroke-width="1.0"/>
<text x="699.80" y="396.90" font-size="8.6" fill="#000" font-weight="bold" text-anchor="start" textLength="7.0" lengthAdjust="spacingAndGlyphs" stroke="#000" stroke-width="0.35">80</text>
<text x="699.80" y="405.60" font-size="8.6" fill="#000" font-weight="bold" text-anchor="start" textLength="10.5" lengthAdjust="spacingAndGlyphs" stroke="#000" stroke-width="0.35">210</text>
<line x1="583.00" y1="467.50" x2="610.30" y2="467.50" stroke="#555" stroke-width="1.0"/>
<text x="584.00" y="465.60" font-size="8.6" fill="#000" font-weight="bold" text-anchor="start" textLength="7.0" lengthAdjust="spacingAndGlyphs" stroke="#000" stroke-width="0.35">80</text>
<text x="584.00" y="474.70" font-size="8.6" fill="#000" font-weight="bold" text-anchor="start" textLength="10.5" lengthAdjust="spacingAndGlyphs" stroke="#000" stroke-width="0.35">210</text>
<line x1="631.70" y1="468.30" x2="658.20" y2="468.30" stroke="#555" stroke-width="1.0"/>
<text x="631.80" y="466.60" font-size="8.6" fill="#000" font-weight="bold" text-anchor="start" textLength="7.0" lengthAdjust="spacingAndGlyphs" stroke="#000" stroke-width="0.35">80</text>
<text x="631.80" y="476.40" font-size="8.6" fill="#000" font-weight="bold" text-anchor="start" textLength="10.5" lengthAdjust="spacingAndGlyphs" stroke="#000" stroke-width="0.35">210</text>
<line x1="575.50" y1="579.10" x2="603.60" y2="579.10" stroke="#555" stroke-width="1.0"/>
<text x="581.60" y="577.30" font-size="8.6" fill="#000" font-weight="bold" text-anchor="start" textLength="7.0" lengthAdjust="spacingAndGlyphs" stroke="#000" stroke-width="0.35">55</text>
<text x="581.60" y="586.50" font-size="8.6" fill="#000" font-weight="bold" text-anchor="start" textLength="7.0" lengthAdjust="spacingAndGlyphs" stroke="#000" stroke-width="0.35">55</text>
<text x="690.90" y="427.30" font-size="8.6" fill="#000" font-weight="bold" text-anchor="start" textLength="17.9" lengthAdjust="spacingAndGlyphs" stroke="#000" stroke-width="0.35">9x30,0</text>
<text x="690.90" y="436.70" font-size="8.6" fill="#000" font-weight="bold" text-anchor="start" textLength="21.8" lengthAdjust="spacingAndGlyphs" stroke="#000" stroke-width="0.35">10x17,5</text>
<text x="558.20" y="465.80" font-size="8.6" fill="#000" font-weight="bold" text-anchor="start" textLength="18.4" lengthAdjust="spacingAndGlyphs" stroke="#000" stroke-width="0.35">2x30,0</text>
<text x="558.20" y="475.00" font-size="8.6" fill="#000" font-weight="bold" text-anchor="start" textLength="18.4" lengthAdjust="spacingAndGlyphs" stroke="#000" stroke-width="0.35">3x14,7</text>
<text x="312.00" y="292.10" font-size="10.1" fill="#000" font-weight="bold" text-anchor="start" textLength="65.4" lengthAdjust="spacingAndGlyphs" stroke="#000" stroke-width="0.4">Natkrivena terasa</text>
<text x="311.40" y="304.50" font-size="10.1" fill="#000" font-weight="bold" text-anchor="start" textLength="43.2" lengthAdjust="spacingAndGlyphs" stroke="#000" stroke-width="0.4">P=17,27 m2</text>
<text x="355.00" y="524.10" font-size="10.1" fill="#000" font-weight="bold" text-anchor="start" textLength="65.2" lengthAdjust="spacingAndGlyphs" stroke="#000" stroke-width="0.4">Natkrivena terasa</text>
<text x="354.40" y="536.60" font-size="10.1" fill="#000" font-weight="bold" text-anchor="start" textLength="42.4" lengthAdjust="spacingAndGlyphs" stroke="#000" stroke-width="0.4">P=20,20 m2</text>
<text x="648.90" y="158.80" font-size="10.1" fill="#000" font-weight="bold" text-anchor="start" textLength="65.0" lengthAdjust="spacingAndGlyphs" stroke="#000" stroke-width="0.4">Natkrivena terasa</text>
<text x="648.20" y="171.10" font-size="10.1" fill="#000" font-weight="bold" text-anchor="start" textLength="38.0" lengthAdjust="spacingAndGlyphs" stroke="#000" stroke-width="0.4">P=9,25 m2</text>
<text x="429.50" y="247.10" font-size="10.1" fill="#000" font-weight="bold" text-anchor="start" textLength="19.3" lengthAdjust="spacingAndGlyphs" stroke="#000" stroke-width="0.4">Soba</text>
<text x="428.00" y="259.90" font-size="10.1" fill="#000" font-weight="bold" text-anchor="start" textLength="38.2" lengthAdjust="spacingAndGlyphs" stroke="#000" stroke-width="0.4">P=6,58 m2</text>
<text x="518.00" y="245.20" font-size="10.1" fill="#000" font-weight="bold" text-anchor="start" textLength="18.9" lengthAdjust="spacingAndGlyphs" stroke="#000" stroke-width="0.4">Soba</text>
<text x="516.70" y="257.10" font-size="10.1" fill="#000" font-weight="bold" text-anchor="start" textLength="38.5" lengthAdjust="spacingAndGlyphs" stroke="#000" stroke-width="0.4">P=6,16 m2</text>
<text x="591.20" y="261.00" font-size="10.1" fill="#000" font-weight="bold" text-anchor="start" textLength="12.4" lengthAdjust="spacingAndGlyphs" stroke="#000" stroke-width="0.4">WC</text>
<text x="589.60" y="272.70" font-size="10.1" fill="#000" font-weight="bold" text-anchor="start" textLength="38.7" lengthAdjust="spacingAndGlyphs" stroke="#000" stroke-width="0.4">P=2,52 m2</text>
<text x="681.00" y="271.30" font-size="10.1" fill="#000" font-weight="bold" text-anchor="start" textLength="52.3" lengthAdjust="spacingAndGlyphs" stroke="#000" stroke-width="0.4">Ljetna kuhinja</text>
<text x="680.00" y="285.90" font-size="10.1" fill="#000" font-weight="bold" text-anchor="start" textLength="41.6" lengthAdjust="spacingAndGlyphs" stroke="#000" stroke-width="0.4">P=26,13 m2</text>
<text x="462.50" y="338.40" font-size="10.1" fill="#000" font-weight="bold" text-anchor="start" textLength="83.5" lengthAdjust="spacingAndGlyphs" stroke="#000" stroke-width="0.4">Kuhinja,blagovaonica,</text>
<text x="462.50" y="350.70" font-size="10.1" fill="#000" font-weight="bold" text-anchor="start" textLength="57.8" lengthAdjust="spacingAndGlyphs" stroke="#000" stroke-width="0.4">dnevni boravak</text>
<text x="462.00" y="363.00" font-size="10.1" fill="#000" font-weight="bold" text-anchor="start" textLength="42.7" lengthAdjust="spacingAndGlyphs" stroke="#000" stroke-width="0.4">P=36,98 m2</text>
<text x="543.20" y="419.60" font-size="10.1" fill="#000" font-weight="bold" text-anchor="start" textLength="13.3" lengthAdjust="spacingAndGlyphs" stroke="#000" stroke-width="0.4">WC</text>
<text x="542.80" y="432.10" font-size="10.1" fill="#000" font-weight="bold" text-anchor="start" textLength="37.8" lengthAdjust="spacingAndGlyphs" stroke="#000" stroke-width="0.4">P=2,05 m2</text>
<text x="592.60" y="412.10" font-size="10.1" fill="#000" font-weight="bold" text-anchor="start" textLength="26.2" lengthAdjust="spacingAndGlyphs" stroke="#000" stroke-width="0.4">Hodnik</text>
<text x="591.10" y="424.30" font-size="10.1" fill="#000" font-weight="bold" text-anchor="start" textLength="37.9" lengthAdjust="spacingAndGlyphs" stroke="#000" stroke-width="0.4">P=5,35 m2</text>
<text x="721.80" y="393.90" font-size="10.1" fill="#000" font-weight="bold" text-anchor="start" textLength="28.8" lengthAdjust="spacingAndGlyphs" stroke="#000" stroke-width="0.4">Sprema</text>
<text x="720.30" y="408.40" font-size="10.1" fill="#000" font-weight="bold" text-anchor="start" textLength="38.1" lengthAdjust="spacingAndGlyphs" stroke="#000" stroke-width="0.4">P=1,13 m2</text>
<text x="812.00" y="404.00" font-size="10.1" fill="#000" font-weight="bold" text-anchor="start" textLength="29.4" lengthAdjust="spacingAndGlyphs" stroke="#000" stroke-width="0.4">Sprema</text>
<text x="811.80" y="417.70" font-size="10.1" fill="#000" font-weight="bold" text-anchor="start" textLength="38.5" lengthAdjust="spacingAndGlyphs" stroke="#000" stroke-width="0.4">P=2,77 m2</text>
<text x="707.30" y="474.50" font-size="10.1" fill="#000" font-weight="bold" text-anchor="start" textLength="19.3" lengthAdjust="spacingAndGlyphs" stroke="#000" stroke-width="0.4">Soba</text>
<text x="705.70" y="486.20" font-size="10.1" fill="#000" font-weight="bold" text-anchor="start" textLength="42.7" lengthAdjust="spacingAndGlyphs" stroke="#000" stroke-width="0.4">P=10,92 m2</text>
<text x="601.80" y="539.70" font-size="10.1" fill="#000" font-weight="bold" text-anchor="start" textLength="40.0" lengthAdjust="spacingAndGlyphs" stroke="#000" stroke-width="0.4">Kupaonica</text>
<text x="601.80" y="553.70" font-size="10.1" fill="#000" font-weight="bold" text-anchor="start" textLength="37.8" lengthAdjust="spacingAndGlyphs" stroke="#000" stroke-width="0.4">P=4,16 m2</text>
<text x="1013.10" y="632.20" font-size="15.2" fill="#111" font-weight="bold" text-anchor="start" textLength="137.6" lengthAdjust="spacingAndGlyphs" style="white-space:pre" stroke="#111" stroke-width="0.25">Netto površine SUTEREN:</text>
<text x="1013.10" y="668.80" font-size="15.2" fill="#111" font-weight="normal" text-anchor="start" textLength="124.1" lengthAdjust="spacingAndGlyphs" style="white-space:pre" stroke="#111" stroke-width="0.25">- ljetna kuhinja s WC-om:</text>
<text x="1056.50" y="686.90" font-size="15.2" fill="#111" font-weight="bold" text-anchor="start" textLength="110.9" lengthAdjust="spacingAndGlyphs" style="white-space:pre" stroke="#111" stroke-width="0.25">ukupno:  P=28,65 m2</text>
<text x="1013.10" y="723.30" font-size="15.2" fill="#111" font-weight="normal" text-anchor="start" textLength="177.1" lengthAdjust="spacingAndGlyphs" style="white-space:pre" stroke="#111" stroke-width="0.25">- stan 1: zatvoren prostor: 72,20 m2</text>
<text x="1056.50" y="742.00" font-size="15.2" fill="#111" font-weight="normal" text-anchor="start" textLength="83.8" lengthAdjust="spacingAndGlyphs" style="white-space:pre" stroke="#111" stroke-width="0.25">terase: 37,47 m2</text>
<text x="1056.50" y="759.70" font-size="15.2" fill="#111" font-weight="bold" text-anchor="start" textLength="117.1" lengthAdjust="spacingAndGlyphs" style="white-space:pre" stroke="#111" stroke-width="0.25">ukupno: P= 109,67 m2</text>
</svg>
</body></html>
